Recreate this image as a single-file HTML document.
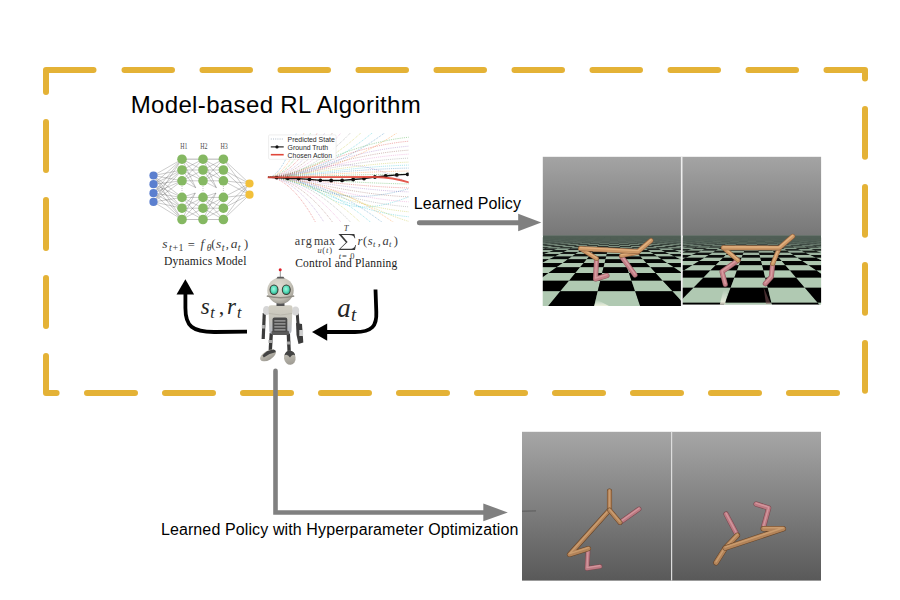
<!DOCTYPE html>
<html><head><meta charset="utf-8"><style>
html,body{margin:0;padding:0;background:#fff;}
body{width:900px;height:600px;position:relative;overflow:hidden;font-family:"Liberation Sans",sans-serif;}
svg{position:absolute;left:0;top:0;}
</style></head><body>
<svg width="900" height="600" viewBox="0 0 900 600">
<path d="M46,91.9 L46,70 L93.5,70 M826.5,70 L865,70 L865,78.6 M46,356 L46,393 L56.6,393 M124.5,70 L172.0,70 M202.5,70 L250.0,70 M280.5,70 L328.0,70 M358.5,70 L406.0,70 M436.5,70 L484.0,70 M514.5,70 L562.0,70 M592.5,70 L640.0,70 M670.5,70 L718.0,70 M748.5,70 L796.0,70 M865,109 L865,156.7 M865,187 L865,234.7 M865,265 L865,312.7 M865,343 L865,390.7 M87,393 L135,393 M165,393 L213,393 M243,393 L291,393 M321,393 L369,393 M399,393 L447,393 M477,393 L525,393 M555,393 L603,393 M633,393 L681,393 M711,393 L759,393 M789,393 L837,393 M46,122 L46,170 M46,200 L46,248 M46,278 L46,326" fill="none" stroke="#E4B236" stroke-width="6" stroke-linecap="round" stroke-linejoin="round"/>
<path d="M153.5,175.5L182,159.2 M153.5,175.5L182,170 M153.5,175.5L182,180.8 M153.5,175.5L182,197.4 M153.5,175.5L182,208.2 M153.5,175.5L182,219.5 M153.5,184.2L182,159.2 M153.5,184.2L182,170 M153.5,184.2L182,180.8 M153.5,184.2L182,197.4 M153.5,184.2L182,208.2 M153.5,184.2L182,219.5 M153.5,193.2L182,159.2 M153.5,193.2L182,170 M153.5,193.2L182,180.8 M153.5,193.2L182,197.4 M153.5,193.2L182,208.2 M153.5,193.2L182,219.5 M153.5,201.9L182,159.2 M153.5,201.9L182,170 M153.5,201.9L182,180.8 M153.5,201.9L182,197.4 M153.5,201.9L182,208.2 M153.5,201.9L182,219.5 M182,159.2L203,159.2 M182,159.2L203,170 M182,159.2L203,180.8 M182,170L203,159.2 M182,170L203,170 M182,170L203,180.8 M182,180.8L203,159.2 M182,180.8L203,170 M182,180.8L203,180.8 M182,197.4L203,197.4 M182,197.4L203,208.2 M182,197.4L203,219.5 M182,208.2L203,197.4 M182,208.2L203,208.2 M182,208.2L203,219.5 M182,219.5L203,197.4 M182,219.5L203,208.2 M182,219.5L203,219.5 M182,159.2L195.7,187.7 M182,170L195.7,187.7 M182,180.8L195.7,187.7 M182,197.4L195.3,193 M182,208.2L195.3,193 M182,219.5L195.3,193 M203,159.2L223.4,159.2 M203,159.2L223.4,170 M203,159.2L223.4,180.8 M203,170L223.4,159.2 M203,170L223.4,170 M203,170L223.4,180.8 M203,180.8L223.4,159.2 M203,180.8L223.4,170 M203,180.8L223.4,180.8 M203,197.4L223.4,197.4 M203,197.4L223.4,208.2 M203,197.4L223.4,219.5 M203,208.2L223.4,197.4 M203,208.2L223.4,208.2 M203,208.2L223.4,219.5 M203,219.5L223.4,197.4 M203,219.5L223.4,208.2 M203,219.5L223.4,219.5 M203,159.2L216.4,187.7 M203,170L216.4,187.7 M203,180.8L216.4,187.7 M203,197.4L216,193 M203,208.2L216,193 M203,219.5L216,193 M223.4,159.2L249.5,183.5 M223.4,159.2L249.5,194.7 M223.4,170L249.5,183.5 M223.4,170L249.5,194.7 M223.4,180.8L249.5,183.5 M223.4,180.8L249.5,194.7 M223.4,197.4L249.5,183.5 M223.4,197.4L249.5,194.7 M223.4,208.2L249.5,183.5 M223.4,208.2L249.5,194.7 M223.4,219.5L249.5,183.5 M223.4,219.5L249.5,194.7" stroke="#333" stroke-opacity="0.55" stroke-width="0.45" fill="none"/>
<path d="M182,159.2H223.4M182,219.5H223.4" stroke="#bbb" stroke-width="0.6"/>
<line x1="182" y1="186" x2="182" y2="192" stroke="#999" stroke-width="0.6" stroke-dasharray="1 1"/>
<line x1="203" y1="186" x2="203" y2="192" stroke="#999" stroke-width="0.6" stroke-dasharray="1 1"/>
<line x1="223.4" y1="186" x2="223.4" y2="192" stroke="#999" stroke-width="0.6" stroke-dasharray="1 1"/>
<circle cx="153.5" cy="175.5" r="4.1" fill="#5B7FCF"/>
<circle cx="153.5" cy="184.2" r="4.1" fill="#5B7FCF"/>
<circle cx="153.5" cy="193.2" r="4.1" fill="#5B7FCF"/>
<circle cx="153.5" cy="201.9" r="4.1" fill="#5B7FCF"/>
<circle cx="182" cy="159.2" r="4.8" fill="#85B862"/>
<circle cx="182" cy="170" r="4.8" fill="#85B862"/>
<circle cx="182" cy="180.8" r="4.8" fill="#85B862"/>
<circle cx="182" cy="197.4" r="4.8" fill="#85B862"/>
<circle cx="182" cy="208.2" r="4.8" fill="#85B862"/>
<circle cx="182" cy="219.5" r="4.8" fill="#85B862"/>
<circle cx="203" cy="159.2" r="4.8" fill="#85B862"/>
<circle cx="203" cy="170" r="4.8" fill="#85B862"/>
<circle cx="203" cy="180.8" r="4.8" fill="#85B862"/>
<circle cx="203" cy="197.4" r="4.8" fill="#85B862"/>
<circle cx="203" cy="208.2" r="4.8" fill="#85B862"/>
<circle cx="203" cy="219.5" r="4.8" fill="#85B862"/>
<circle cx="223.4" cy="159.2" r="4.8" fill="#85B862"/>
<circle cx="223.4" cy="170" r="4.8" fill="#85B862"/>
<circle cx="223.4" cy="180.8" r="4.8" fill="#85B862"/>
<circle cx="223.4" cy="197.4" r="4.8" fill="#85B862"/>
<circle cx="223.4" cy="208.2" r="4.8" fill="#85B862"/>
<circle cx="223.4" cy="219.5" r="4.8" fill="#85B862"/>
<circle cx="249.5" cy="183.5" r="4.1" fill="#F2C03A"/>
<circle cx="249.5" cy="194.7" r="4.1" fill="#F2C03A"/>
<text transform="translate(183.9,149) scale(0.78,1)" x="0" y="0" font-family="Liberation Serif, serif" font-size="7.6" fill="#4a4a4a" text-anchor="middle">H1</text>
<text transform="translate(203.9,149) scale(0.78,1)" x="0" y="0" font-family="Liberation Serif, serif" font-size="7.6" fill="#4a4a4a" text-anchor="middle">H2</text>
<text transform="translate(224.1,149) scale(0.78,1)" x="0" y="0" font-family="Liberation Serif, serif" font-size="7.6" fill="#4a4a4a" text-anchor="middle">H3</text>
<clipPath id="pc"><rect x="266" y="133" width="142.7" height="89"/></clipPath>
<g clip-path="url(#pc)">
<path d="M268,177.3 C278.5,177.3 289.6,155.12 298,128" fill="none" stroke="#1f77b4" stroke-opacity="0.55" stroke-width="0.75" stroke-dasharray="0.9 1.0"/>
<path d="M268,177.3 C281.3,177.3 295.36,155.12 306,128" fill="none" stroke="#ff7f0e" stroke-opacity="0.55" stroke-width="0.75" stroke-dasharray="0.9 1.0"/>
<path d="M268,177.3 C283.75,177.3 300.4,155.12 313,128" fill="none" stroke="#2ca02c" stroke-opacity="0.55" stroke-width="0.75" stroke-dasharray="0.9 1.0"/>
<path d="M268,177.3 C286.2,177.3 305.44,155.12 320,128" fill="none" stroke="#d62728" stroke-opacity="0.55" stroke-width="0.75" stroke-dasharray="0.9 1.0"/>
<path d="M268,177.3 C289,177.3 311.2,155.12 328,128" fill="none" stroke="#9467bd" stroke-opacity="0.55" stroke-width="0.75" stroke-dasharray="0.9 1.0"/>
<path d="M268,177.3 C291.8,177.3 316.96,155.12 336,128" fill="none" stroke="#8c564b" stroke-opacity="0.55" stroke-width="0.75" stroke-dasharray="0.9 1.0"/>
<path d="M268,177.3 C294.95,177.3 323.44,155.12 345,128" fill="none" stroke="#e377c2" stroke-opacity="0.55" stroke-width="0.75" stroke-dasharray="0.9 1.0"/>
<path d="M268,177.3 C298.45,177.3 330.64,155.12 355,128" fill="none" stroke="#7f7f7f" stroke-opacity="0.55" stroke-width="0.75" stroke-dasharray="0.9 1.0"/>
<path d="M268,177.3 C302.3,177.3 338.56,155.12 366,128" fill="none" stroke="#bcbd22" stroke-opacity="0.55" stroke-width="0.75" stroke-dasharray="0.9 1.0"/>
<path d="M268,177.3 C306.5,177.3 347.2,155.12 378,128" fill="none" stroke="#17becf" stroke-opacity="0.55" stroke-width="0.75" stroke-dasharray="0.9 1.0"/>
<path d="M268,177.3 C311.05,177.3 356.56,155.12 391,128" fill="none" stroke="#1f77b4" stroke-opacity="0.55" stroke-width="0.75" stroke-dasharray="0.9 1.0"/>
<path d="M268,177.3 C315.6,177.3 365.92,155.12 404,128" fill="none" stroke="#ff7f0e" stroke-opacity="0.55" stroke-width="0.75" stroke-dasharray="0.9 1.0"/>
<path d="M268,177.3 C300,177.3 345,143.05 411,137" fill="none" stroke="#2ca02c" stroke-opacity="0.55" stroke-width="0.75" stroke-dasharray="0.9 1.0"/>
<path d="M268,177.3 C300,177.3 345,146.44 411,141" fill="none" stroke="#d62728" stroke-opacity="0.55" stroke-width="0.75" stroke-dasharray="0.9 1.0"/>
<path d="M268,177.3 C300,177.3 345,150.69 411,146" fill="none" stroke="#9467bd" stroke-opacity="0.55" stroke-width="0.75" stroke-dasharray="0.9 1.0"/>
<path d="M268,177.3 C300,177.3 345,154.09 411,150" fill="none" stroke="#8c564b" stroke-opacity="0.55" stroke-width="0.75" stroke-dasharray="0.9 1.0"/>
<path d="M268,177.3 C300,177.3 345,157.5 411,154" fill="none" stroke="#e377c2" stroke-opacity="0.55" stroke-width="0.75" stroke-dasharray="0.9 1.0"/>
<path d="M268,177.3 C300,177.3 345,160.9 411,158" fill="none" stroke="#7f7f7f" stroke-opacity="0.55" stroke-width="0.75" stroke-dasharray="0.9 1.0"/>
<path d="M268,177.3 C300,177.3 345,164.3 411,162" fill="none" stroke="#bcbd22" stroke-opacity="0.55" stroke-width="0.75" stroke-dasharray="0.9 1.0"/>
<path d="M268,177.3 C300,177.3 345,166.84 411,165" fill="none" stroke="#17becf" stroke-opacity="0.55" stroke-width="0.75" stroke-dasharray="0.9 1.0"/>
<path d="M268,177.3 C300,177.3 345,169.4 411,168" fill="none" stroke="#1f77b4" stroke-opacity="0.55" stroke-width="0.75" stroke-dasharray="0.9 1.0"/>
<path d="M268,177.3 C300,177.3 345,171.94 411,171" fill="none" stroke="#ff7f0e" stroke-opacity="0.55" stroke-width="0.75" stroke-dasharray="0.9 1.0"/>
<path d="M268,177.3 C300,177.3 345,174.5 411,174" fill="none" stroke="#2ca02c" stroke-opacity="0.55" stroke-width="0.75" stroke-dasharray="0.9 1.0"/>
<path d="M268,177.3 C285.5,177.3 304,199.67 318,227" fill="none" stroke="#d62728" stroke-opacity="0.55" stroke-width="0.75" stroke-dasharray="0.9 1.0"/>
<path d="M268,177.3 C288.65,177.3 310.48,199.67 327,227" fill="none" stroke="#9467bd" stroke-opacity="0.55" stroke-width="0.75" stroke-dasharray="0.9 1.0"/>
<path d="M268,177.3 C291.8,177.3 316.96,199.67 336,227" fill="none" stroke="#8c564b" stroke-opacity="0.55" stroke-width="0.75" stroke-dasharray="0.9 1.0"/>
<path d="M268,177.3 C294.95,177.3 323.44,199.67 345,227" fill="none" stroke="#e377c2" stroke-opacity="0.55" stroke-width="0.75" stroke-dasharray="0.9 1.0"/>
<path d="M268,177.3 C298.45,177.3 330.64,199.67 355,227" fill="none" stroke="#7f7f7f" stroke-opacity="0.55" stroke-width="0.75" stroke-dasharray="0.9 1.0"/>
<path d="M268,177.3 C301.95,177.3 337.84,199.67 365,227" fill="none" stroke="#bcbd22" stroke-opacity="0.55" stroke-width="0.75" stroke-dasharray="0.9 1.0"/>
<path d="M268,177.3 C305.8,177.3 345.76,199.67 376,227" fill="none" stroke="#17becf" stroke-opacity="0.55" stroke-width="0.75" stroke-dasharray="0.9 1.0"/>
<path d="M268,177.3 C310,177.3 354.4,199.67 388,227" fill="none" stroke="#1f77b4" stroke-opacity="0.55" stroke-width="0.75" stroke-dasharray="0.9 1.0"/>
<path d="M268,177.3 C314.2,177.3 363.04,199.67 400,227" fill="none" stroke="#ff7f0e" stroke-opacity="0.55" stroke-width="0.75" stroke-dasharray="0.9 1.0"/>
<path d="M268,177.3 C300,177.3 345,183 411,184" fill="none" stroke="#2ca02c" stroke-opacity="0.55" stroke-width="0.75" stroke-dasharray="0.9 1.0"/>
<path d="M268,177.3 C300,177.3 345,186.4 411,188" fill="none" stroke="#d62728" stroke-opacity="0.55" stroke-width="0.75" stroke-dasharray="0.9 1.0"/>
<path d="M268,177.3 C300,177.3 345,189.8 411,192" fill="none" stroke="#9467bd" stroke-opacity="0.55" stroke-width="0.75" stroke-dasharray="0.9 1.0"/>
<path d="M268,177.3 C300,177.3 345,194.05 411,197" fill="none" stroke="#8c564b" stroke-opacity="0.55" stroke-width="0.75" stroke-dasharray="0.9 1.0"/>
<path d="M268,177.3 C300,177.3 345,198.3 411,202" fill="none" stroke="#e377c2" stroke-opacity="0.55" stroke-width="0.75" stroke-dasharray="0.9 1.0"/>
<path d="M268,177.3 C300,177.3 345,202.55 411,207" fill="none" stroke="#7f7f7f" stroke-opacity="0.55" stroke-width="0.75" stroke-dasharray="0.9 1.0"/>
<path d="M268,177.3 C300,177.3 345,206.8 411,212" fill="none" stroke="#bcbd22" stroke-opacity="0.55" stroke-width="0.75" stroke-dasharray="0.9 1.0"/>
<path d="M268,177.3 C300,177.3 345,211.05 411,217" fill="none" stroke="#17becf" stroke-opacity="0.55" stroke-width="0.75" stroke-dasharray="0.9 1.0"/>
<path d="M300,182 C330,196 360,203 411,188" fill="none" stroke="#1f77b4" stroke-opacity="0.55" stroke-width="0.75" stroke-dasharray="0.9 1.0"/>
<path d="M310,186 C345,212 370,212 411,196" fill="none" stroke="#17becf" stroke-opacity="0.55" stroke-width="0.75" stroke-dasharray="0.9 1.0"/>
<path d="M320,168 C350,160 380,168 411,184" fill="none" stroke="#9467bd" stroke-opacity="0.55" stroke-width="0.75" stroke-dasharray="0.9 1.0"/>
<path d="M330,190 C360,200 385,215 411,222" fill="none" stroke="#bcbd22" stroke-opacity="0.55" stroke-width="0.75" stroke-dasharray="0.9 1.0"/>
<polyline points="268,177.3 276.6,177.6 287.7,178.3 298.6,178.6 309.4,179.3 320.3,180.3 331.2,180.5 342.1,180.4 353.2,179.5 364,178.6 374.9,177 385.7,176 396.8,174.9 407.6,174.3" fill="none" stroke="#111" stroke-width="1.3"/>
<circle cx="276.6" cy="177.6" r="1.9" fill="#111"/>
<circle cx="287.7" cy="178.3" r="1.9" fill="#111"/>
<circle cx="298.6" cy="178.6" r="1.9" fill="#111"/>
<circle cx="309.4" cy="179.3" r="1.9" fill="#111"/>
<circle cx="320.3" cy="180.3" r="1.9" fill="#111"/>
<circle cx="331.2" cy="180.5" r="1.9" fill="#111"/>
<circle cx="342.1" cy="180.4" r="1.9" fill="#111"/>
<circle cx="353.2" cy="179.5" r="1.9" fill="#111"/>
<circle cx="364" cy="178.6" r="1.9" fill="#111"/>
<circle cx="374.9" cy="177" r="1.9" fill="#111"/>
<circle cx="385.7" cy="176" r="1.9" fill="#111"/>
<circle cx="396.8" cy="174.9" r="1.9" fill="#111"/>
<circle cx="407.6" cy="174.3" r="1.9" fill="#111"/>
<path d="M267.7,177.3 C300,177.2 350,177 375,177 C390,177.2 400,179.5 409,182.5" fill="none" stroke="#e0473a" stroke-opacity="0.9" stroke-width="1.8"/>
</g>
<rect x="268.6" y="134.9" width="67.5" height="24.4" rx="1.2" fill="#fff" fill-opacity="0.85" stroke="#ddd" stroke-width="0.5"/>
<line x1="270.8" y1="139" x2="283.7" y2="139" stroke="#9ab" stroke-width="0.8" stroke-dasharray="1 1.2"/>
<line x1="270.8" y1="146.9" x2="283.7" y2="146.9" stroke="#111" stroke-width="1.1"/>
<circle cx="277" cy="146.9" r="1.6" fill="#111"/>
<line x1="270.8" y1="154.7" x2="283.7" y2="154.7" stroke="#e0473a" stroke-width="1.6"/>
<text x="287.6" y="141.8" font-family="Liberation Sans, sans-serif" font-size="6.9" fill="#2a2a2a">Predicted State</text>
<text x="287.6" y="149.7" font-family="Liberation Sans, sans-serif" font-size="6.9" fill="#2a2a2a">Ground Truth</text>
<text x="287.6" y="157.5" font-family="Liberation Sans, sans-serif" font-size="6.9" fill="#2a2a2a">Chosen Action</text>
<path d="M247,331.7 L215,332 C192,332.2 185.4,326 185.4,308 L185.4,292" fill="none" stroke="#000" stroke-width="3.8"/>
<path d="M185.4,279.3 L176.5,294.5 L194.1,294.5 Z" fill="#000"/>
<path d="M375.5,289.5 L376.3,312 C377,326 372,332 355,332 L325,332" fill="none" stroke="#000" stroke-width="3.8"/>
<path d="M312,332 L327.2,323.4 L327.2,340.7 Z" fill="#000"/>
<path d="M419.4,222.7 L520,222.7" stroke="#808080" stroke-width="5" stroke-linecap="round"/>
<path d="M541.3,222.5 L518.2,213.8 L518.2,231.2 Z" fill="#808080"/>
<path d="M275.5,370.8 L275.5,512.5 L486,512.5" fill="none" stroke="#808080" stroke-width="4.6" stroke-linecap="round" stroke-linejoin="miter"/>
<path d="M507.8,512.4 L483.3,503.6 L483.3,521.2 Z" fill="#808080"/>
<defs>
<radialGradient id="rh" cx="0.42" cy="0.35" r="0.75"><stop offset="0" stop-color="#e0ddd3"/><stop offset="0.6" stop-color="#c9c6bb"/><stop offset="1" stop-color="#8e8b83"/></radialGradient>
<radialGradient id="re" cx="0.45" cy="0.4" r="0.65"><stop offset="0" stop-color="#a0f7e0"/><stop offset="0.6" stop-color="#55dcb8"/><stop offset="1" stop-color="#2a9f80"/></radialGradient>
<linearGradient id="rb" x1="0" y1="0" x2="0" y2="1"><stop offset="0" stop-color="#d2cfc3"/><stop offset="0.4" stop-color="#c8c6bc"/><stop offset="1" stop-color="#b2b6c0"/></linearGradient>
<linearGradient id="rf" x1="0" y1="0" x2="0" y2="1"><stop offset="0" stop-color="#c9c6bb"/><stop offset="1" stop-color="#9d9a92"/></linearGradient>
</defs>
<line x1="280.3" y1="270.5" x2="280.3" y2="277.5" stroke="#8a8a8a" stroke-width="0.9"/>
<circle cx="280.2" cy="269.8" r="1.5" fill="#e0202a"/>
<path d="M271.3,333 L270.3,350" stroke="#3a3a3a" stroke-width="3.4"/>
<path d="M288.3,333 L289.2,352.5" stroke="#3a3a3a" stroke-width="3.4"/>
<rect x="268.5" y="340" width="4.2" height="3" fill="#a5a5a5"/>
<rect x="286.8" y="341.5" width="4.2" height="3" fill="#a5a5a5"/>
<ellipse cx="268" cy="355.4" rx="8.8" ry="4.6" transform="rotate(-30 268 355.4)" fill="url(#rf)"/>
<path d="M262.5,355.5 Q266,350.2 273.5,349.5 Q276.3,350.2 275.5,352.3 Q269.5,353.2 263.8,357.5 Z" fill="#434343"/>
<ellipse cx="289.8" cy="357.8" rx="5.8" ry="7" transform="rotate(-8 289.8 357.8)" fill="url(#rf)"/>
<path d="M284.4,355.5 Q285.5,351 289.5,350.8 Q294.5,351 295.2,355.5 Q292.5,353.2 290,357.5 Q287.2,353.2 284.4,355.5 Z" fill="#434343"/>
<path d="M264.3,313 L263.2,339" stroke="#3c3c3c" stroke-width="3.2"/>
<rect x="261.8" y="325" width="3" height="3.5" fill="#b0b0b0"/>
<ellipse cx="266.5" cy="310.5" rx="3.5" ry="4.6" fill="#d6d6d6"/>
<path d="M297.2,313 L298,324" stroke="#3c3c3c" stroke-width="3"/>
<path d="M296,323 L302,324 L303.3,342.5 L298.5,344 L296.5,335 Z" fill="#3c3c3c"/>
<rect x="299.3" y="330" width="3.8" height="6" fill="#cfcfcf"/>
<ellipse cx="295.6" cy="311" rx="3.6" ry="4.5" fill="#d6d6d6"/>
<path d="M268.5,307.5 Q268.5,305.3 271,305.3 L290,305.3 Q292.5,305.3 292.5,307.5 L291.5,331 Q291,334 288,334 L272.5,334 Q269.5,334 269.3,331 Z" fill="url(#rb)"/>
<path d="M269,313.5 Q280.5,316.5 292,313.5" stroke="#b5b2a8" stroke-width="0.8" fill="none"/>
<rect x="271.5" y="330.5" width="17.5" height="4.5" rx="1.5" fill="#5a5a5a"/>
<rect x="272.5" y="317.6" width="14.8" height="14.3" rx="2" fill="#4a4a4a"/>
<rect x="274.3" y="320.0" width="11.2" height="1.7" fill="#8e8e8e"/>
<rect x="274.3" y="323.0" width="11.2" height="1.7" fill="#8e8e8e"/>
<rect x="274.3" y="326.0" width="11.2" height="1.7" fill="#8e8e8e"/>
<rect x="274.3" y="329.0" width="11.2" height="1.7" fill="#8e8e8e"/>
<rect x="276.5" y="302" width="8" height="4" fill="#555"/>
<circle cx="280.5" cy="290.6" r="13.2" fill="url(#rh)"/>
<path d="M266.8,296 Q280.5,299.5 294.2,296" stroke="#8f8c84" stroke-width="1.3" fill="none"/>
<path d="M276.3,278.6 L284.7,278.6 L283.4,276.8 L277.6,276.8 Z" fill="#5a5a5a"/>
<ellipse cx="274.0" cy="289.8" rx="4.5" ry="5.3" fill="#3a3a33"/>
<ellipse cx="274.0" cy="289.8" rx="3.5" ry="4.3" fill="url(#re)"/>
<ellipse cx="286.3" cy="289.8" rx="4.5" ry="5.3" fill="#3a3a33"/>
<ellipse cx="286.3" cy="289.8" rx="3.5" ry="4.3" fill="url(#re)"/>
<defs><linearGradient id="sky" x1="0" y1="0" x2="0" y2="1"><stop offset="0" stop-color="#a4a4a4"/><stop offset="1" stop-color="#777777"/></linearGradient><linearGradient id="refl" x1="0" y1="0" x2="0" y2="1"><stop offset="0" stop-color="#fff" stop-opacity="0"/><stop offset="1" stop-color="#fffbe8" stop-opacity="0.9"/></linearGradient></defs>
<rect x="542.8" y="156.8" width="278.3" height="78.8" fill="url(#sky)"/>
<clipPath id="cl"><rect x="542.8" y="235.2" width="138.20000000000005" height="70.69999999999999"/></clipPath>
<g clip-path="url(#cl)">
<rect x="542.8" y="234.7" width="138.20000000000005" height="71.19999999999999" fill="#505f56"/>
<path d="M537.78,237.46L543.86,237.46L546.03,237.13L540.14,237.13Z" fill="#505f56"/>
<path d="M543.86,237.46L549.95,237.46L551.92,237.13L546.03,237.13Z" fill="#505f56"/>
<path d="M549.95,237.46L556.03,237.46L557.82,237.13L551.92,237.13Z" fill="#505f56"/>
<path d="M556.03,237.46L562.11,237.46L563.71,237.13L557.82,237.13Z" fill="#505f56"/>
<path d="M562.11,237.46L568.19,237.46L569.6,237.13L563.71,237.13Z" fill="#505f56"/>
<path d="M568.19,237.46L574.28,237.46L575.49,237.13L569.6,237.13Z" fill="#505f56"/>
<path d="M574.28,237.46L580.36,237.46L581.39,237.13L575.49,237.13Z" fill="#505f56"/>
<path d="M580.36,237.46L586.44,237.46L587.28,237.13L581.39,237.13Z" fill="#505f56"/>
<path d="M586.44,237.46L592.52,237.46L593.17,237.13L587.28,237.13Z" fill="#505f56"/>
<path d="M592.52,237.46L598.61,237.46L599.06,237.13L593.17,237.13Z" fill="#505f56"/>
<path d="M598.61,237.46L604.69,237.46L604.96,237.13L599.06,237.13Z" fill="#505f56"/>
<path d="M604.69,237.46L610.77,237.46L610.85,237.13L604.96,237.13Z" fill="#505f56"/>
<path d="M610.77,237.46L616.85,237.46L616.74,237.13L610.85,237.13Z" fill="#505f56"/>
<path d="M616.85,237.46L622.94,237.46L622.63,237.13L616.74,237.13Z" fill="#505f56"/>
<path d="M622.94,237.46L629.02,237.46L628.53,237.13L622.63,237.13Z" fill="#505f56"/>
<path d="M629.02,237.46L635.1,237.46L634.42,237.13L628.53,237.13Z" fill="#505f56"/>
<path d="M635.1,237.46L641.18,237.46L640.31,237.13L634.42,237.13Z" fill="#505f56"/>
<path d="M641.18,237.46L647.26,237.46L646.2,237.13L640.31,237.13Z" fill="#505f56"/>
<path d="M647.26,237.46L653.35,237.46L652.1,237.13L646.2,237.13Z" fill="#505f56"/>
<path d="M653.35,237.46L659.43,237.46L657.99,237.13L652.1,237.13Z" fill="#505f56"/>
<path d="M659.43,237.46L665.51,237.46L663.88,237.13L657.99,237.13Z" fill="#505f56"/>
<path d="M665.51,237.46L671.59,237.46L669.78,237.13L663.88,237.13Z" fill="#505f56"/>
<path d="M671.59,237.46L677.68,237.46L675.67,237.13L669.78,237.13Z" fill="#505f56"/>
<path d="M677.68,237.46L683.76,237.46L681.56,237.13L675.67,237.13Z" fill="#505f56"/>
<path d="M683.76,237.46L689.84,237.46L687.45,237.13L681.56,237.13Z" fill="#505f56"/>
<path d="M535.27,237.81L541.55,237.81L543.86,237.46L537.78,237.46Z" fill="#505f56"/>
<path d="M541.55,237.81L547.84,237.81L549.95,237.46L543.86,237.46Z" fill="#505f56"/>
<path d="M547.84,237.81L554.12,237.81L556.03,237.46L549.95,237.46Z" fill="#505f56"/>
<path d="M554.12,237.81L560.41,237.81L562.11,237.46L556.03,237.46Z" fill="#505f56"/>
<path d="M560.41,237.81L566.69,237.81L568.19,237.46L562.11,237.46Z" fill="#505f56"/>
<path d="M566.69,237.81L572.98,237.81L574.28,237.46L568.19,237.46Z" fill="#505f56"/>
<path d="M572.98,237.81L579.26,237.81L580.36,237.46L574.28,237.46Z" fill="#505f56"/>
<path d="M579.26,237.81L585.55,237.81L586.44,237.46L580.36,237.46Z" fill="#505f56"/>
<path d="M585.55,237.81L591.83,237.81L592.52,237.46L586.44,237.46Z" fill="#505f56"/>
<path d="M591.83,237.81L598.12,237.81L598.61,237.46L592.52,237.46Z" fill="#505f56"/>
<path d="M598.12,237.81L604.4,237.81L604.69,237.46L598.61,237.46Z" fill="#505f56"/>
<path d="M604.4,237.81L610.69,237.81L610.77,237.46L604.69,237.46Z" fill="#505f56"/>
<path d="M610.69,237.81L616.97,237.81L616.85,237.46L610.77,237.46Z" fill="#505f56"/>
<path d="M616.97,237.81L623.26,237.81L622.94,237.46L616.85,237.46Z" fill="#505f56"/>
<path d="M623.26,237.81L629.54,237.81L629.02,237.46L622.94,237.46Z" fill="#505f56"/>
<path d="M629.54,237.81L635.83,237.81L635.1,237.46L629.02,237.46Z" fill="#505f56"/>
<path d="M635.83,237.81L642.11,237.81L641.18,237.46L635.1,237.46Z" fill="#505f56"/>
<path d="M642.11,237.81L648.4,237.81L647.26,237.46L641.18,237.46Z" fill="#505f56"/>
<path d="M648.4,237.81L654.68,237.81L653.35,237.46L647.26,237.46Z" fill="#505f56"/>
<path d="M654.68,237.81L660.96,237.81L659.43,237.46L653.35,237.46Z" fill="#505f56"/>
<path d="M660.96,237.81L667.25,237.81L665.51,237.46L659.43,237.46Z" fill="#505f56"/>
<path d="M667.25,237.81L673.53,237.81L671.59,237.46L665.51,237.46Z" fill="#505f56"/>
<path d="M673.53,237.81L679.82,237.81L677.68,237.46L671.59,237.46Z" fill="#505f56"/>
<path d="M679.82,237.81L686.1,237.81L683.76,237.46L677.68,237.46Z" fill="#505f56"/>
<path d="M539.08,238.18L545.58,238.18L547.84,237.81L541.55,237.81Z" fill="#505f56"/>
<path d="M545.58,238.18L552.08,238.18L554.12,237.81L547.84,237.81Z" fill="#505f56"/>
<path d="M552.08,238.18L558.59,238.18L560.41,237.81L554.12,237.81Z" fill="#505f56"/>
<path d="M558.59,238.18L565.09,238.18L566.69,237.81L560.41,237.81Z" fill="#505f56"/>
<path d="M565.09,238.18L571.59,238.18L572.98,237.81L566.69,237.81Z" fill="#505f56"/>
<path d="M571.59,238.18L578.09,238.18L579.26,237.81L572.98,237.81Z" fill="#505f56"/>
<path d="M578.09,238.18L584.59,238.18L585.55,237.81L579.26,237.81Z" fill="#505f56"/>
<path d="M584.59,238.18L591.09,238.18L591.83,237.81L585.55,237.81Z" fill="#505f56"/>
<path d="M591.09,238.18L597.59,238.18L598.12,237.81L591.83,237.81Z" fill="#505f56"/>
<path d="M597.59,238.18L604.09,238.18L604.4,237.81L598.12,237.81Z" fill="#505f56"/>
<path d="M604.09,238.18L610.6,238.18L610.69,237.81L604.4,237.81Z" fill="#505f56"/>
<path d="M610.6,238.18L617.1,238.18L616.97,237.81L610.69,237.81Z" fill="#505f56"/>
<path d="M617.1,238.18L623.6,238.18L623.26,237.81L616.97,237.81Z" fill="#505f56"/>
<path d="M623.6,238.18L630.1,238.18L629.54,237.81L623.26,237.81Z" fill="#505f56"/>
<path d="M630.1,238.18L636.6,238.18L635.83,237.81L629.54,237.81Z" fill="#505f56"/>
<path d="M636.6,238.18L643.1,238.18L642.11,237.81L635.83,237.81Z" fill="#505f56"/>
<path d="M643.1,238.18L649.6,238.18L648.4,237.81L642.11,237.81Z" fill="#505f56"/>
<path d="M649.6,238.18L656.1,238.18L654.68,237.81L648.4,237.81Z" fill="#505f56"/>
<path d="M656.1,238.18L662.61,238.18L660.96,237.81L654.68,237.81Z" fill="#505f56"/>
<path d="M662.61,238.18L669.11,238.18L667.25,237.81L660.96,237.81Z" fill="#505f56"/>
<path d="M669.11,238.18L675.61,238.18L673.53,237.81L667.25,237.81Z" fill="#505f56"/>
<path d="M675.61,238.18L682.11,238.18L679.82,237.81L673.53,237.81Z" fill="#505f56"/>
<path d="M682.11,238.18L688.61,238.18L686.1,237.81L679.82,237.81Z" fill="#505f56"/>
<path d="M536.44,238.58L543.17,238.58L545.58,238.18L539.08,238.18Z" fill="#4f5e55"/>
<path d="M543.17,238.58L549.9,238.58L552.08,238.18L545.58,238.18Z" fill="#516057"/>
<path d="M549.9,238.58L556.64,238.58L558.59,238.18L552.08,238.18Z" fill="#4f5e55"/>
<path d="M556.64,238.58L563.37,238.58L565.09,238.18L558.59,238.18Z" fill="#516057"/>
<path d="M563.37,238.58L570.1,238.58L571.59,238.18L565.09,238.18Z" fill="#4f5e55"/>
<path d="M570.1,238.58L576.83,238.58L578.09,238.18L571.59,238.18Z" fill="#516057"/>
<path d="M576.83,238.58L583.57,238.58L584.59,238.18L578.09,238.18Z" fill="#4f5e55"/>
<path d="M583.57,238.58L590.3,238.58L591.09,238.18L584.59,238.18Z" fill="#516057"/>
<path d="M590.3,238.58L597.03,238.58L597.59,238.18L591.09,238.18Z" fill="#4f5e55"/>
<path d="M597.03,238.58L603.77,238.58L604.09,238.18L597.59,238.18Z" fill="#516057"/>
<path d="M603.77,238.58L610.5,238.58L610.6,238.18L604.09,238.18Z" fill="#4f5e55"/>
<path d="M610.5,238.58L617.23,238.58L617.1,238.18L610.6,238.18Z" fill="#516057"/>
<path d="M617.23,238.58L623.97,238.58L623.6,238.18L617.1,238.18Z" fill="#4f5e55"/>
<path d="M623.97,238.58L630.7,238.58L630.1,238.18L623.6,238.18Z" fill="#516057"/>
<path d="M630.7,238.58L637.43,238.58L636.6,238.18L630.1,238.18Z" fill="#4f5e55"/>
<path d="M637.43,238.58L644.16,238.58L643.1,238.18L636.6,238.18Z" fill="#516057"/>
<path d="M644.16,238.58L650.9,238.58L649.6,238.18L643.1,238.18Z" fill="#4f5e55"/>
<path d="M650.9,238.58L657.63,238.58L656.1,238.18L649.6,238.18Z" fill="#516057"/>
<path d="M657.63,238.58L664.36,238.58L662.61,238.18L656.1,238.18Z" fill="#4f5e55"/>
<path d="M664.36,238.58L671.1,238.58L669.11,238.18L662.61,238.18Z" fill="#516057"/>
<path d="M671.1,238.58L677.83,238.58L675.61,238.18L669.11,238.18Z" fill="#4f5e55"/>
<path d="M677.83,238.58L684.56,238.58L682.11,238.18L675.61,238.18Z" fill="#516057"/>
<path d="M533.59,239L540.58,239L543.17,238.58L536.44,238.58Z" fill="#516057"/>
<path d="M540.58,239L547.56,239L549.9,238.58L543.17,238.58Z" fill="#4f5e55"/>
<path d="M547.56,239L554.54,239L556.64,238.58L549.9,238.58Z" fill="#516057"/>
<path d="M554.54,239L561.52,239L563.37,238.58L556.64,238.58Z" fill="#4f5e55"/>
<path d="M561.52,239L568.5,239L570.1,238.58L563.37,238.58Z" fill="#516057"/>
<path d="M568.5,239L575.49,239L576.83,238.58L570.1,238.58Z" fill="#4f5e55"/>
<path d="M575.49,239L582.47,239L583.57,238.58L576.83,238.58Z" fill="#516057"/>
<path d="M582.47,239L589.45,239L590.3,238.58L583.57,238.58Z" fill="#4f5e55"/>
<path d="M589.45,239L596.43,239L597.03,238.58L590.3,238.58Z" fill="#516057"/>
<path d="M596.43,239L603.41,239L603.77,238.58L597.03,238.58Z" fill="#4f5e55"/>
<path d="M603.41,239L610.4,239L610.5,238.58L603.77,238.58Z" fill="#516057"/>
<path d="M610.4,239L617.38,239L617.23,238.58L610.5,238.58Z" fill="#4f5e55"/>
<path d="M617.38,239L624.36,239L623.97,238.58L617.23,238.58Z" fill="#516057"/>
<path d="M624.36,239L631.34,239L630.7,238.58L623.97,238.58Z" fill="#4f5e55"/>
<path d="M631.34,239L638.32,239L637.43,238.58L630.7,238.58Z" fill="#516057"/>
<path d="M638.32,239L645.31,239L644.16,238.58L637.43,238.58Z" fill="#4f5e55"/>
<path d="M645.31,239L652.29,239L650.9,238.58L644.16,238.58Z" fill="#516057"/>
<path d="M652.29,239L659.27,239L657.63,238.58L650.9,238.58Z" fill="#4f5e55"/>
<path d="M659.27,239L666.25,239L664.36,238.58L657.63,238.58Z" fill="#516057"/>
<path d="M666.25,239L673.23,239L671.1,238.58L664.36,238.58Z" fill="#4f5e55"/>
<path d="M673.23,239L680.22,239L677.83,238.58L671.1,238.58Z" fill="#516057"/>
<path d="M680.22,239L687.2,239L684.56,238.58L677.83,238.58Z" fill="#4f5e55"/>
<path d="M537.78,239.47L545.03,239.47L547.56,239L540.58,239Z" fill="#526158"/>
<path d="M545.03,239.47L552.28,239.47L554.54,239L547.56,239Z" fill="#4e5d54"/>
<path d="M552.28,239.47L559.53,239.47L561.52,239L554.54,239Z" fill="#526158"/>
<path d="M559.53,239.47L566.78,239.47L568.5,239L561.52,239Z" fill="#4e5d54"/>
<path d="M566.78,239.47L574.03,239.47L575.49,239L568.5,239Z" fill="#526158"/>
<path d="M574.03,239.47L581.28,239.47L582.47,239L575.49,239Z" fill="#4e5d54"/>
<path d="M581.28,239.47L588.53,239.47L589.45,239L582.47,239Z" fill="#526158"/>
<path d="M588.53,239.47L595.78,239.47L596.43,239L589.45,239Z" fill="#4e5d54"/>
<path d="M595.78,239.47L603.03,239.47L603.41,239L596.43,239Z" fill="#526158"/>
<path d="M603.03,239.47L610.28,239.47L610.4,239L603.41,239Z" fill="#4e5d54"/>
<path d="M610.28,239.47L617.53,239.47L617.38,239L610.4,239Z" fill="#526158"/>
<path d="M617.53,239.47L624.78,239.47L624.36,239L617.38,239Z" fill="#4e5d54"/>
<path d="M624.78,239.47L632.03,239.47L631.34,239L624.36,239Z" fill="#526158"/>
<path d="M632.03,239.47L639.28,239.47L638.32,239L631.34,239Z" fill="#4e5d54"/>
<path d="M639.28,239.47L646.53,239.47L645.31,239L638.32,239Z" fill="#526158"/>
<path d="M646.53,239.47L653.78,239.47L652.29,239L645.31,239Z" fill="#4e5d54"/>
<path d="M653.78,239.47L661.03,239.47L659.27,239L652.29,239Z" fill="#526158"/>
<path d="M661.03,239.47L668.29,239.47L666.25,239L659.27,239Z" fill="#4e5d54"/>
<path d="M668.29,239.47L675.54,239.47L673.23,239L666.25,239Z" fill="#526158"/>
<path d="M675.54,239.47L682.79,239.47L680.22,239L673.23,239Z" fill="#4e5d54"/>
<path d="M682.79,239.47L690.04,239.47L687.2,239L680.22,239Z" fill="#526158"/>
<path d="M534.77,239.96L542.31,239.96L545.03,239.47L537.78,239.47Z" fill="#4d5c53"/>
<path d="M542.31,239.96L549.85,239.96L552.28,239.47L545.03,239.47Z" fill="#536259"/>
<path d="M549.85,239.96L557.39,239.96L559.53,239.47L552.28,239.47Z" fill="#4d5c53"/>
<path d="M557.39,239.96L564.93,239.96L566.78,239.47L559.53,239.47Z" fill="#536259"/>
<path d="M564.93,239.96L572.47,239.96L574.03,239.47L566.78,239.47Z" fill="#4d5c53"/>
<path d="M572.47,239.96L580.01,239.96L581.28,239.47L574.03,239.47Z" fill="#536259"/>
<path d="M580.01,239.96L587.55,239.96L588.53,239.47L581.28,239.47Z" fill="#4d5c53"/>
<path d="M587.55,239.96L595.09,239.96L595.78,239.47L588.53,239.47Z" fill="#536259"/>
<path d="M595.09,239.96L602.62,239.96L603.03,239.47L595.78,239.47Z" fill="#4d5c53"/>
<path d="M602.62,239.96L610.16,239.96L610.28,239.47L603.03,239.47Z" fill="#536259"/>
<path d="M610.16,239.96L617.7,239.96L617.53,239.47L610.28,239.47Z" fill="#4d5c53"/>
<path d="M617.7,239.96L625.24,239.96L624.78,239.47L617.53,239.47Z" fill="#536259"/>
<path d="M625.24,239.96L632.78,239.96L632.03,239.47L624.78,239.47Z" fill="#4d5c53"/>
<path d="M632.78,239.96L640.32,239.96L639.28,239.47L632.03,239.47Z" fill="#536259"/>
<path d="M640.32,239.96L647.86,239.96L646.53,239.47L639.28,239.47Z" fill="#4d5c53"/>
<path d="M647.86,239.96L655.4,239.96L653.78,239.47L646.53,239.47Z" fill="#536259"/>
<path d="M655.4,239.96L662.94,239.96L661.03,239.47L653.78,239.47Z" fill="#4d5c53"/>
<path d="M662.94,239.96L670.48,239.96L668.29,239.47L661.03,239.47Z" fill="#536259"/>
<path d="M670.48,239.96L678.02,239.96L675.54,239.47L668.29,239.47Z" fill="#4d5c53"/>
<path d="M678.02,239.96L685.56,239.96L682.79,239.47L675.54,239.47Z" fill="#536259"/>
<path d="M531.5,240.5L539.36,240.5L542.31,239.96L534.77,239.96Z" fill="#55645b"/>
<path d="M539.36,240.5L547.21,240.5L549.85,239.96L542.31,239.96Z" fill="#4c5a52"/>
<path d="M547.21,240.5L555.06,240.5L557.39,239.96L549.85,239.96Z" fill="#55645b"/>
<path d="M555.06,240.5L562.92,240.5L564.93,239.96L557.39,239.96Z" fill="#4c5a52"/>
<path d="M562.92,240.5L570.77,240.5L572.47,239.96L564.93,239.96Z" fill="#55645b"/>
<path d="M570.77,240.5L578.62,240.5L580.01,239.96L572.47,239.96Z" fill="#4c5a52"/>
<path d="M578.62,240.5L586.47,240.5L587.55,239.96L580.01,239.96Z" fill="#55645b"/>
<path d="M586.47,240.5L594.33,240.5L595.09,239.96L587.55,239.96Z" fill="#4c5a52"/>
<path d="M594.33,240.5L602.18,240.5L602.62,239.96L595.09,239.96Z" fill="#55645b"/>
<path d="M602.18,240.5L610.03,240.5L610.16,239.96L602.62,239.96Z" fill="#4c5a52"/>
<path d="M610.03,240.5L617.89,240.5L617.7,239.96L610.16,239.96Z" fill="#55645b"/>
<path d="M617.89,240.5L625.74,240.5L625.24,239.96L617.7,239.96Z" fill="#4c5a52"/>
<path d="M625.74,240.5L633.59,240.5L632.78,239.96L625.24,239.96Z" fill="#55645b"/>
<path d="M633.59,240.5L641.45,240.5L640.32,239.96L632.78,239.96Z" fill="#4c5a52"/>
<path d="M641.45,240.5L649.3,240.5L647.86,239.96L640.32,239.96Z" fill="#55645b"/>
<path d="M649.3,240.5L657.15,240.5L655.4,239.96L647.86,239.96Z" fill="#4c5a52"/>
<path d="M657.15,240.5L665.01,240.5L662.94,239.96L655.4,239.96Z" fill="#55645b"/>
<path d="M665.01,240.5L672.86,240.5L670.48,239.96L662.94,239.96Z" fill="#4c5a52"/>
<path d="M672.86,240.5L680.71,240.5L678.02,239.96L670.48,239.96Z" fill="#55645b"/>
<path d="M680.71,240.5L688.56,240.5L685.56,239.96L678.02,239.96Z" fill="#4c5a52"/>
<path d="M536.15,241.09L544.34,241.09L547.21,240.5L539.36,240.5Z" fill="#57675d"/>
<path d="M544.34,241.09L552.53,241.09L555.06,240.5L547.21,240.5Z" fill="#4a5850"/>
<path d="M552.53,241.09L560.73,241.09L562.92,240.5L555.06,240.5Z" fill="#57675d"/>
<path d="M560.73,241.09L568.92,241.09L570.77,240.5L562.92,240.5Z" fill="#4a5850"/>
<path d="M568.92,241.09L577.12,241.09L578.62,240.5L570.77,240.5Z" fill="#57675d"/>
<path d="M577.12,241.09L585.31,241.09L586.47,240.5L578.62,240.5Z" fill="#4a5850"/>
<path d="M585.31,241.09L593.5,241.09L594.33,240.5L586.47,240.5Z" fill="#57675d"/>
<path d="M593.5,241.09L601.7,241.09L602.18,240.5L594.33,240.5Z" fill="#4a5850"/>
<path d="M601.7,241.09L609.89,241.09L610.03,240.5L602.18,240.5Z" fill="#57675d"/>
<path d="M609.89,241.09L618.09,241.09L617.89,240.5L610.03,240.5Z" fill="#4a5850"/>
<path d="M618.09,241.09L626.28,241.09L625.74,240.5L617.89,240.5Z" fill="#57675d"/>
<path d="M626.28,241.09L634.47,241.09L633.59,240.5L625.74,240.5Z" fill="#4a5850"/>
<path d="M634.47,241.09L642.67,241.09L641.45,240.5L633.59,240.5Z" fill="#57675d"/>
<path d="M642.67,241.09L650.86,241.09L649.3,240.5L641.45,240.5Z" fill="#4a5850"/>
<path d="M650.86,241.09L659.06,241.09L657.15,240.5L649.3,240.5Z" fill="#57675d"/>
<path d="M659.06,241.09L667.25,241.09L665.01,240.5L657.15,240.5Z" fill="#4a5850"/>
<path d="M667.25,241.09L675.44,241.09L672.86,240.5L665.01,240.5Z" fill="#57675d"/>
<path d="M675.44,241.09L683.64,241.09L680.71,240.5L672.86,240.5Z" fill="#4a5850"/>
<path d="M683.64,241.09L691.83,241.09L688.56,240.5L680.71,240.5Z" fill="#57675d"/>
<path d="M532.65,241.73L541.21,241.73L544.34,241.09L536.15,241.09Z" fill="#48554d"/>
<path d="M541.21,241.73L549.78,241.73L552.53,241.09L544.34,241.09Z" fill="#5a6a5f"/>
<path d="M549.78,241.73L558.34,241.73L560.73,241.09L552.53,241.09Z" fill="#48554d"/>
<path d="M558.34,241.73L566.91,241.73L568.92,241.09L560.73,241.09Z" fill="#5a6a5f"/>
<path d="M566.91,241.73L575.48,241.73L577.12,241.09L568.92,241.09Z" fill="#48554d"/>
<path d="M575.48,241.73L584.04,241.73L585.31,241.09L577.12,241.09Z" fill="#5a6a5f"/>
<path d="M584.04,241.73L592.61,241.73L593.5,241.09L585.31,241.09Z" fill="#48554d"/>
<path d="M592.61,241.73L601.17,241.73L601.7,241.09L593.5,241.09Z" fill="#5a6a5f"/>
<path d="M601.17,241.73L609.74,241.73L609.89,241.09L601.7,241.09Z" fill="#48554d"/>
<path d="M609.74,241.73L618.3,241.73L618.09,241.09L609.89,241.09Z" fill="#5a6a5f"/>
<path d="M618.3,241.73L626.87,241.73L626.28,241.09L618.09,241.09Z" fill="#48554d"/>
<path d="M626.87,241.73L635.43,241.73L634.47,241.09L626.28,241.09Z" fill="#5a6a5f"/>
<path d="M635.43,241.73L644,241.73L642.67,241.09L634.47,241.09Z" fill="#48554d"/>
<path d="M644,241.73L652.57,241.73L650.86,241.09L642.67,241.09Z" fill="#5a6a5f"/>
<path d="M652.57,241.73L661.13,241.73L659.06,241.09L650.86,241.09Z" fill="#48554d"/>
<path d="M661.13,241.73L669.7,241.73L667.25,241.09L659.06,241.09Z" fill="#5a6a5f"/>
<path d="M669.7,241.73L678.26,241.73L675.44,241.09L667.25,241.09Z" fill="#48554d"/>
<path d="M678.26,241.73L686.83,241.73L683.64,241.09L675.44,241.09Z" fill="#5a6a5f"/>
<path d="M537.79,242.43L546.76,242.43L549.78,241.73L541.21,241.73Z" fill="#45514a"/>
<path d="M546.76,242.43L555.73,242.43L558.34,241.73L549.78,241.73Z" fill="#5e6e63"/>
<path d="M555.73,242.43L564.71,242.43L566.91,241.73L558.34,241.73Z" fill="#45514a"/>
<path d="M564.71,242.43L573.68,242.43L575.48,241.73L566.91,241.73Z" fill="#5e6e63"/>
<path d="M573.68,242.43L582.65,242.43L584.04,241.73L575.48,241.73Z" fill="#45514a"/>
<path d="M582.65,242.43L591.62,242.43L592.61,241.73L584.04,241.73Z" fill="#5e6e63"/>
<path d="M591.62,242.43L600.6,242.43L601.17,241.73L592.61,241.73Z" fill="#45514a"/>
<path d="M600.6,242.43L609.57,242.43L609.74,241.73L601.17,241.73Z" fill="#5e6e63"/>
<path d="M609.57,242.43L618.54,242.43L618.3,241.73L609.74,241.73Z" fill="#45514a"/>
<path d="M618.54,242.43L627.51,242.43L626.87,241.73L618.3,241.73Z" fill="#5e6e63"/>
<path d="M627.51,242.43L636.49,242.43L635.43,241.73L626.87,241.73Z" fill="#45514a"/>
<path d="M636.49,242.43L645.46,242.43L644,241.73L635.43,241.73Z" fill="#5e6e63"/>
<path d="M645.46,242.43L654.43,242.43L652.57,241.73L644,241.73Z" fill="#45514a"/>
<path d="M654.43,242.43L663.4,242.43L661.13,241.73L652.57,241.73Z" fill="#5e6e63"/>
<path d="M663.4,242.43L672.38,242.43L669.7,241.73L661.13,241.73Z" fill="#45514a"/>
<path d="M672.38,242.43L681.35,242.43L678.26,241.73L669.7,241.73Z" fill="#5e6e63"/>
<path d="M681.35,242.43L690.32,242.43L686.83,241.73L678.26,241.73Z" fill="#45514a"/>
<path d="M534.02,243.2L543.44,243.2L546.76,242.43L537.79,242.43Z" fill="#627368"/>
<path d="M543.44,243.2L552.86,243.2L555.73,242.43L546.76,242.43Z" fill="#414d46"/>
<path d="M552.86,243.2L562.28,243.2L564.71,242.43L555.73,242.43Z" fill="#627368"/>
<path d="M562.28,243.2L571.7,243.2L573.68,242.43L564.71,242.43Z" fill="#414d46"/>
<path d="M571.7,243.2L581.12,243.2L582.65,242.43L573.68,242.43Z" fill="#627368"/>
<path d="M581.12,243.2L590.54,243.2L591.62,242.43L582.65,242.43Z" fill="#414d46"/>
<path d="M590.54,243.2L599.96,243.2L600.6,242.43L591.62,242.43Z" fill="#627368"/>
<path d="M599.96,243.2L609.38,243.2L609.57,242.43L600.6,242.43Z" fill="#414d46"/>
<path d="M609.38,243.2L618.8,243.2L618.54,242.43L609.57,242.43Z" fill="#627368"/>
<path d="M618.8,243.2L628.22,243.2L627.51,242.43L618.54,242.43Z" fill="#414d46"/>
<path d="M628.22,243.2L637.64,243.2L636.49,242.43L627.51,242.43Z" fill="#627368"/>
<path d="M637.64,243.2L647.06,243.2L645.46,242.43L636.49,242.43Z" fill="#414d46"/>
<path d="M647.06,243.2L656.48,243.2L654.43,242.43L645.46,242.43Z" fill="#627368"/>
<path d="M656.48,243.2L665.9,243.2L663.4,242.43L654.43,242.43Z" fill="#414d46"/>
<path d="M665.9,243.2L675.32,243.2L672.38,242.43L663.4,242.43Z" fill="#627368"/>
<path d="M675.32,243.2L684.74,243.2L681.35,242.43L672.38,242.43Z" fill="#414d46"/>
<path d="M684.74,243.2L694.16,243.2L690.32,242.43L681.35,242.43Z" fill="#627368"/>
<path d="M529.86,244.05L539.77,244.05L543.44,243.2L534.02,243.2Z" fill="#3c4740"/>
<path d="M539.77,244.05L549.69,244.05L552.86,243.2L543.44,243.2Z" fill="#687a6d"/>
<path d="M549.69,244.05L559.6,244.05L562.28,243.2L552.86,243.2Z" fill="#3c4740"/>
<path d="M559.6,244.05L569.52,244.05L571.7,243.2L562.28,243.2Z" fill="#687a6d"/>
<path d="M569.52,244.05L579.43,244.05L581.12,243.2L571.7,243.2Z" fill="#3c4740"/>
<path d="M579.43,244.05L589.35,244.05L590.54,243.2L581.12,243.2Z" fill="#687a6d"/>
<path d="M589.35,244.05L599.26,244.05L599.96,243.2L590.54,243.2Z" fill="#3c4740"/>
<path d="M599.26,244.05L609.18,244.05L609.38,243.2L599.96,243.2Z" fill="#687a6d"/>
<path d="M609.18,244.05L619.09,244.05L618.8,243.2L609.38,243.2Z" fill="#3c4740"/>
<path d="M619.09,244.05L629.01,244.05L628.22,243.2L618.8,243.2Z" fill="#687a6d"/>
<path d="M629.01,244.05L638.92,244.05L637.64,243.2L628.22,243.2Z" fill="#3c4740"/>
<path d="M638.92,244.05L648.84,244.05L647.06,243.2L637.64,243.2Z" fill="#687a6d"/>
<path d="M648.84,244.05L658.75,244.05L656.48,243.2L647.06,243.2Z" fill="#3c4740"/>
<path d="M658.75,244.05L668.66,244.05L665.9,243.2L656.48,243.2Z" fill="#687a6d"/>
<path d="M668.66,244.05L678.58,244.05L675.32,243.2L665.9,243.2Z" fill="#3c4740"/>
<path d="M678.58,244.05L688.49,244.05L684.74,243.2L675.32,243.2Z" fill="#687a6d"/>
<path d="M535.7,244.99L546.16,244.99L549.69,244.05L539.77,244.05Z" fill="#37413b"/>
<path d="M546.16,244.99L556.63,244.99L559.6,244.05L549.69,244.05Z" fill="#6f8173"/>
<path d="M556.63,244.99L567.09,244.99L569.52,244.05L559.6,244.05Z" fill="#37413b"/>
<path d="M567.09,244.99L577.56,244.99L579.43,244.05L569.52,244.05Z" fill="#6f8173"/>
<path d="M577.56,244.99L588.02,244.99L589.35,244.05L579.43,244.05Z" fill="#37413b"/>
<path d="M588.02,244.99L598.48,244.99L599.26,244.05L589.35,244.05Z" fill="#6f8173"/>
<path d="M598.48,244.99L608.95,244.99L609.18,244.05L599.26,244.05Z" fill="#37413b"/>
<path d="M608.95,244.99L619.41,244.99L619.09,244.05L609.18,244.05Z" fill="#6f8173"/>
<path d="M619.41,244.99L629.88,244.99L629.01,244.05L619.09,244.05Z" fill="#37413b"/>
<path d="M629.88,244.99L640.34,244.99L638.92,244.05L629.01,244.05Z" fill="#6f8173"/>
<path d="M640.34,244.99L650.8,244.99L648.84,244.05L638.92,244.05Z" fill="#37413b"/>
<path d="M650.8,244.99L661.27,244.99L658.75,244.05L648.84,244.05Z" fill="#6f8173"/>
<path d="M661.27,244.99L671.73,244.99L668.66,244.05L658.75,244.05Z" fill="#37413b"/>
<path d="M671.73,244.99L682.2,244.99L678.58,244.05L668.66,244.05Z" fill="#6f8173"/>
<path d="M682.2,244.99L692.66,244.99L688.49,244.05L678.58,244.05Z" fill="#37413b"/>
<path d="M531.15,246.05L542.22,246.05L546.16,244.99L535.7,244.99Z" fill="#76897a"/>
<path d="M542.22,246.05L553.3,246.05L556.63,244.99L546.16,244.99Z" fill="#313a34"/>
<path d="M553.3,246.05L564.38,246.05L567.09,244.99L556.63,244.99Z" fill="#76897a"/>
<path d="M564.38,246.05L575.46,246.05L577.56,244.99L567.09,244.99Z" fill="#313a34"/>
<path d="M575.46,246.05L586.54,246.05L588.02,244.99L577.56,244.99Z" fill="#76897a"/>
<path d="M586.54,246.05L597.61,246.05L598.48,244.99L588.02,244.99Z" fill="#313a34"/>
<path d="M597.61,246.05L608.69,246.05L608.95,244.99L598.48,244.99Z" fill="#76897a"/>
<path d="M608.69,246.05L619.77,246.05L619.41,244.99L608.95,244.99Z" fill="#313a34"/>
<path d="M619.77,246.05L630.85,246.05L629.88,244.99L619.41,244.99Z" fill="#76897a"/>
<path d="M630.85,246.05L641.93,246.05L640.34,244.99L629.88,244.99Z" fill="#313a34"/>
<path d="M641.93,246.05L653,246.05L650.8,244.99L640.34,244.99Z" fill="#76897a"/>
<path d="M653,246.05L664.08,246.05L661.27,244.99L650.8,244.99Z" fill="#313a34"/>
<path d="M664.08,246.05L675.16,246.05L671.73,244.99L661.27,244.99Z" fill="#76897a"/>
<path d="M675.16,246.05L686.24,246.05L682.2,244.99L671.73,244.99Z" fill="#313a34"/>
<path d="M526.03,247.23L537.79,247.23L542.22,246.05L531.15,246.05Z" fill="#2a322d"/>
<path d="M537.79,247.23L549.56,247.23L553.3,246.05L542.22,246.05Z" fill="#7d9182"/>
<path d="M549.56,247.23L561.33,247.23L564.38,246.05L553.3,246.05Z" fill="#2a322d"/>
<path d="M561.33,247.23L573.1,247.23L575.46,246.05L564.38,246.05Z" fill="#7d9182"/>
<path d="M573.1,247.23L584.87,247.23L586.54,246.05L575.46,246.05Z" fill="#2a322d"/>
<path d="M584.87,247.23L596.64,247.23L597.61,246.05L586.54,246.05Z" fill="#7d9182"/>
<path d="M596.64,247.23L608.41,247.23L608.69,246.05L597.61,246.05Z" fill="#2a322d"/>
<path d="M608.41,247.23L620.17,247.23L619.77,246.05L608.69,246.05Z" fill="#7d9182"/>
<path d="M620.17,247.23L631.94,247.23L630.85,246.05L619.77,246.05Z" fill="#2a322d"/>
<path d="M631.94,247.23L643.71,247.23L641.93,246.05L630.85,246.05Z" fill="#7d9182"/>
<path d="M643.71,247.23L655.48,247.23L653,246.05L641.93,246.05Z" fill="#2a322d"/>
<path d="M655.48,247.23L667.25,247.23L664.08,246.05L653,246.05Z" fill="#7d9182"/>
<path d="M667.25,247.23L679.02,247.23L675.16,246.05L664.08,246.05Z" fill="#2a322d"/>
<path d="M679.02,247.23L690.78,247.23L686.24,246.05L675.16,246.05Z" fill="#7d9182"/>
<path d="M532.78,248.58L545.33,248.58L549.56,247.23L537.79,247.23Z" fill="#232a26"/>
<path d="M545.33,248.58L557.88,248.58L561.33,247.23L549.56,247.23Z" fill="#869a89"/>
<path d="M557.88,248.58L570.43,248.58L573.1,247.23L561.33,247.23Z" fill="#232a26"/>
<path d="M570.43,248.58L582.98,248.58L584.87,247.23L573.1,247.23Z" fill="#869a89"/>
<path d="M582.98,248.58L595.53,248.58L596.64,247.23L584.87,247.23Z" fill="#232a26"/>
<path d="M595.53,248.58L608.08,248.58L608.41,247.23L596.64,247.23Z" fill="#869a89"/>
<path d="M608.08,248.58L620.63,248.58L620.17,247.23L608.41,247.23Z" fill="#232a26"/>
<path d="M620.63,248.58L633.18,248.58L631.94,247.23L620.17,247.23Z" fill="#869a89"/>
<path d="M633.18,248.58L645.73,248.58L643.71,247.23L631.94,247.23Z" fill="#232a26"/>
<path d="M645.73,248.58L658.28,248.58L655.48,247.23L643.71,247.23Z" fill="#869a89"/>
<path d="M658.28,248.58L670.83,248.58L667.25,247.23L655.48,247.23Z" fill="#232a26"/>
<path d="M670.83,248.58L683.38,248.58L679.02,247.23L667.25,247.23Z" fill="#869a89"/>
<path d="M683.38,248.58L695.93,248.58L690.78,247.23L679.02,247.23Z" fill="#232a26"/>
<path d="M527.04,250.12L540.49,250.12L545.33,248.58L532.78,248.58Z" fill="#8da391"/>
<path d="M540.49,250.12L553.93,250.12L557.88,248.58L545.33,248.58Z" fill="#1d221f"/>
<path d="M553.93,250.12L567.38,250.12L570.43,248.58L557.88,248.58Z" fill="#8da391"/>
<path d="M567.38,250.12L580.82,250.12L582.98,248.58L570.43,248.58Z" fill="#1d221f"/>
<path d="M580.82,250.12L594.26,250.12L595.53,248.58L582.98,248.58Z" fill="#8da391"/>
<path d="M594.26,250.12L607.71,250.12L608.08,248.58L595.53,248.58Z" fill="#1d221f"/>
<path d="M607.71,250.12L621.15,250.12L620.63,248.58L608.08,248.58Z" fill="#8da391"/>
<path d="M621.15,250.12L634.6,250.12L633.18,248.58L620.63,248.58Z" fill="#1d221f"/>
<path d="M634.6,250.12L648.04,250.12L645.73,248.58L633.18,248.58Z" fill="#8da391"/>
<path d="M648.04,250.12L661.49,250.12L658.28,248.58L645.73,248.58Z" fill="#1d221f"/>
<path d="M661.49,250.12L674.93,250.12L670.83,248.58L658.28,248.58Z" fill="#8da391"/>
<path d="M674.93,250.12L688.37,250.12L683.38,248.58L670.83,248.58Z" fill="#1d221f"/>
<path d="M534.91,251.89L549.38,251.89L553.93,250.12L540.49,250.12Z" fill="#95ab98"/>
<path d="M549.38,251.89L563.86,251.89L567.38,250.12L553.93,250.12Z" fill="#161b18"/>
<path d="M563.86,251.89L578.33,251.89L580.82,250.12L567.38,250.12Z" fill="#95ab98"/>
<path d="M578.33,251.89L592.8,251.89L594.26,250.12L580.82,250.12Z" fill="#161b18"/>
<path d="M592.8,251.89L607.28,251.89L607.71,250.12L594.26,250.12Z" fill="#95ab98"/>
<path d="M607.28,251.89L621.75,251.89L621.15,250.12L607.71,250.12Z" fill="#161b18"/>
<path d="M621.75,251.89L636.23,251.89L634.6,250.12L621.15,250.12Z" fill="#95ab98"/>
<path d="M636.23,251.89L650.7,251.89L648.04,250.12L634.6,250.12Z" fill="#161b18"/>
<path d="M650.7,251.89L665.18,251.89L661.49,250.12L648.04,250.12Z" fill="#95ab98"/>
<path d="M665.18,251.89L679.65,251.89L674.93,250.12L661.49,250.12Z" fill="#161b18"/>
<path d="M679.65,251.89L694.13,251.89L688.37,250.12L674.93,250.12Z" fill="#95ab98"/>
<path d="M528.4,253.95L544.07,253.95L549.38,251.89L534.91,251.89Z" fill="#111412"/>
<path d="M544.07,253.95L559.75,253.95L563.86,251.89L549.38,251.89Z" fill="#9cb39f"/>
<path d="M559.75,253.95L575.43,253.95L578.33,251.89L563.86,251.89Z" fill="#111412"/>
<path d="M575.43,253.95L591.1,253.95L592.8,251.89L578.33,251.89Z" fill="#9cb39f"/>
<path d="M591.1,253.95L606.78,253.95L607.28,251.89L592.8,251.89Z" fill="#111412"/>
<path d="M606.78,253.95L622.46,253.95L621.75,251.89L607.28,251.89Z" fill="#9cb39f"/>
<path d="M622.46,253.95L638.13,253.95L636.23,251.89L621.75,251.89Z" fill="#111412"/>
<path d="M638.13,253.95L653.81,253.95L650.7,251.89L636.23,251.89Z" fill="#9cb39f"/>
<path d="M653.81,253.95L669.49,253.95L665.18,251.89L650.7,251.89Z" fill="#111412"/>
<path d="M669.49,253.95L685.16,253.95L679.65,251.89L665.18,251.89Z" fill="#9cb39f"/>
<path d="M685.16,253.95L700.84,253.95L694.13,251.89L679.65,251.89Z" fill="#111412"/>
<path d="M520.71,256.39L537.81,256.39L544.07,253.95L528.4,253.95Z" fill="#a2baa5"/>
<path d="M537.81,256.39L554.9,256.39L559.75,253.95L544.07,253.95Z" fill="#0b0e0c"/>
<path d="M554.9,256.39L572,256.39L575.43,253.95L559.75,253.95Z" fill="#a2baa5"/>
<path d="M572,256.39L589.09,256.39L591.1,253.95L575.43,253.95Z" fill="#0b0e0c"/>
<path d="M589.09,256.39L606.19,256.39L606.78,253.95L591.1,253.95Z" fill="#a2baa5"/>
<path d="M606.19,256.39L623.29,256.39L622.46,253.95L606.78,253.95Z" fill="#0b0e0c"/>
<path d="M623.29,256.39L640.38,256.39L638.13,253.95L622.46,253.95Z" fill="#a2baa5"/>
<path d="M640.38,256.39L657.48,256.39L653.81,253.95L638.13,253.95Z" fill="#0b0e0c"/>
<path d="M657.48,256.39L674.57,256.39L669.49,253.95L653.81,253.95Z" fill="#a2baa5"/>
<path d="M674.57,256.39L691.67,256.39L685.16,253.95L669.49,253.95Z" fill="#0b0e0c"/>
<path d="M530.29,259.32L549.09,259.32L554.9,256.39L537.81,256.39Z" fill="#a7bfaa"/>
<path d="M549.09,259.32L567.89,259.32L572,256.39L554.9,256.39Z" fill="#070908"/>
<path d="M567.89,259.32L586.68,259.32L589.09,256.39L572,256.39Z" fill="#a7bfaa"/>
<path d="M586.68,259.32L605.48,259.32L606.19,256.39L589.09,256.39Z" fill="#070908"/>
<path d="M605.48,259.32L624.28,259.32L623.29,256.39L606.19,256.39Z" fill="#a7bfaa"/>
<path d="M624.28,259.32L643.08,259.32L640.38,256.39L623.29,256.39Z" fill="#070908"/>
<path d="M643.08,259.32L661.87,259.32L657.48,256.39L640.38,256.39Z" fill="#a7bfaa"/>
<path d="M661.87,259.32L680.67,259.32L674.57,256.39L657.48,256.39Z" fill="#070908"/>
<path d="M680.67,259.32L699.47,259.32L691.67,256.39L674.57,256.39Z" fill="#a7bfaa"/>
<path d="M521.11,262.89L541.99,262.89L549.09,259.32L530.29,259.32Z" fill="#040504"/>
<path d="M541.99,262.89L562.87,262.89L567.89,259.32L549.09,259.32Z" fill="#abc4ad"/>
<path d="M562.87,262.89L583.74,262.89L586.68,259.32L567.89,259.32Z" fill="#040504"/>
<path d="M583.74,262.89L604.62,262.89L605.48,259.32L586.68,259.32Z" fill="#abc4ad"/>
<path d="M604.62,262.89L625.49,262.89L624.28,259.32L605.48,259.32Z" fill="#040504"/>
<path d="M625.49,262.89L646.37,262.89L643.08,259.32L624.28,259.32Z" fill="#abc4ad"/>
<path d="M646.37,262.89L667.24,262.89L661.87,259.32L643.08,259.32Z" fill="#040504"/>
<path d="M667.24,262.89L688.12,262.89L680.67,259.32L661.87,259.32Z" fill="#abc4ad"/>
<path d="M688.12,262.89L709,262.89L699.47,259.32L680.67,259.32Z" fill="#040504"/>
<path d="M509.66,267.36L533.13,267.36L541.99,262.89L521.11,262.89Z" fill="#aec6b0"/>
<path d="M533.13,267.36L556.6,267.36L562.87,262.89L541.99,262.89Z" fill="#020202"/>
<path d="M556.6,267.36L580.07,267.36L583.74,262.89L562.87,262.89Z" fill="#aec6b0"/>
<path d="M580.07,267.36L603.54,267.36L604.62,262.89L583.74,262.89Z" fill="#020202"/>
<path d="M603.54,267.36L627.01,267.36L625.49,262.89L604.62,262.89Z" fill="#aec6b0"/>
<path d="M627.01,267.36L650.48,267.36L646.37,262.89L625.49,262.89Z" fill="#020202"/>
<path d="M650.48,267.36L673.95,267.36L667.24,262.89L646.37,262.89Z" fill="#aec6b0"/>
<path d="M673.95,267.36L697.42,267.36L688.12,262.89L667.24,262.89Z" fill="#020202"/>
<path d="M521.75,273.08L548.55,273.08L556.6,267.36L533.13,267.36Z" fill="#afc8b1"/>
<path d="M548.55,273.08L575.35,273.08L580.07,267.36L556.6,267.36Z" fill="#010101"/>
<path d="M575.35,273.08L602.15,273.08L603.54,267.36L580.07,267.36Z" fill="#afc8b1"/>
<path d="M602.15,273.08L628.95,273.08L627.01,267.36L603.54,267.36Z" fill="#010101"/>
<path d="M628.95,273.08L655.76,273.08L650.48,267.36L627.01,267.36Z" fill="#afc8b1"/>
<path d="M655.76,273.08L682.56,273.08L673.95,267.36L650.48,267.36Z" fill="#010101"/>
<path d="M682.56,273.08L709.36,273.08L697.42,267.36L673.95,267.36Z" fill="#afc8b1"/>
<path d="M506.6,280.71L537.84,280.71L548.55,273.08L521.75,273.08Z" fill="#000000"/>
<path d="M537.84,280.71L569.07,280.71L575.35,273.08L548.55,273.08Z" fill="#b0c9b2"/>
<path d="M569.07,280.71L600.31,280.71L602.15,273.08L575.35,273.08Z" fill="#000000"/>
<path d="M600.31,280.71L631.54,280.71L628.95,273.08L602.15,273.08Z" fill="#b0c9b2"/>
<path d="M631.54,280.71L662.78,280.71L655.76,273.08L628.95,273.08Z" fill="#000000"/>
<path d="M662.78,280.71L694.01,280.71L682.56,273.08L655.76,273.08Z" fill="#b0c9b2"/>
<path d="M522.88,291.35L560.31,291.35L569.07,280.71L537.84,280.71Z" fill="#000000"/>
<path d="M560.31,291.35L597.73,291.35L600.31,280.71L569.07,280.71Z" fill="#b0c9b2"/>
<path d="M597.73,291.35L635.16,291.35L631.54,280.71L600.31,280.71Z" fill="#000000"/>
<path d="M635.16,291.35L672.59,291.35L662.78,280.71L631.54,280.71Z" fill="#b0c9b2"/>
<path d="M672.59,291.35L710.01,291.35L694.01,280.71L662.78,280.71Z" fill="#000000"/>
<path d="M500.53,307.26L547.21,307.26L560.31,291.35L522.88,291.35Z" fill="#b0c9b2"/>
<path d="M547.21,307.26L593.89,307.26L597.73,291.35L560.31,291.35Z" fill="#000000"/>
<path d="M593.89,307.26L640.56,307.26L635.16,291.35L597.73,291.35Z" fill="#b0c9b2"/>
<path d="M640.56,307.26L687.24,307.26L672.59,291.35L635.16,291.35Z" fill="#000000"/>
<path d="M687.24,307.26L733.92,307.26L710.01,291.35L672.59,291.35Z" fill="#b0c9b2"/>
</g>
<clipPath id="cr"><rect x="682.5" y="235.2" width="138.60000000000002" height="69.19999999999999"/></clipPath>
<g clip-path="url(#cr)">
<rect x="682.5" y="234.7" width="138.60000000000002" height="69.69999999999999" fill="#505f56"/>
<path d="M678.23,237.94L684.66,237.94L686.93,237.59L680.71,237.59Z" fill="#505f56"/>
<path d="M684.66,237.94L691.09,237.94L693.14,237.59L686.93,237.59Z" fill="#505f56"/>
<path d="M691.09,237.94L697.52,237.94L699.36,237.59L693.14,237.59Z" fill="#505f56"/>
<path d="M697.52,237.94L703.95,237.94L705.57,237.59L699.36,237.59Z" fill="#505f56"/>
<path d="M703.95,237.94L710.38,237.94L711.79,237.59L705.57,237.59Z" fill="#505f56"/>
<path d="M710.38,237.94L716.81,237.94L718.01,237.59L711.79,237.59Z" fill="#505f56"/>
<path d="M716.81,237.94L723.24,237.94L724.22,237.59L718.01,237.59Z" fill="#505f56"/>
<path d="M723.24,237.94L729.67,237.94L730.44,237.59L724.22,237.59Z" fill="#505f56"/>
<path d="M729.67,237.94L736.1,237.94L736.65,237.59L730.44,237.59Z" fill="#505f56"/>
<path d="M736.1,237.94L742.53,237.94L742.87,237.59L736.65,237.59Z" fill="#505f56"/>
<path d="M742.53,237.94L748.96,237.94L749.09,237.59L742.87,237.59Z" fill="#505f56"/>
<path d="M748.96,237.94L755.39,237.94L755.3,237.59L749.09,237.59Z" fill="#505f56"/>
<path d="M755.39,237.94L761.82,237.94L761.52,237.59L755.3,237.59Z" fill="#505f56"/>
<path d="M761.82,237.94L768.25,237.94L767.73,237.59L761.52,237.59Z" fill="#505f56"/>
<path d="M768.25,237.94L774.68,237.94L773.95,237.59L767.73,237.59Z" fill="#505f56"/>
<path d="M774.68,237.94L781.11,237.94L780.17,237.59L773.95,237.59Z" fill="#505f56"/>
<path d="M781.11,237.94L787.54,237.94L786.38,237.59L780.17,237.59Z" fill="#505f56"/>
<path d="M787.54,237.94L793.97,237.94L792.6,237.59L786.38,237.59Z" fill="#505f56"/>
<path d="M793.97,237.94L800.4,237.94L798.81,237.59L792.6,237.59Z" fill="#505f56"/>
<path d="M800.4,237.94L806.83,237.94L805.03,237.59L798.81,237.59Z" fill="#505f56"/>
<path d="M806.83,237.94L813.26,237.94L811.25,237.59L805.03,237.59Z" fill="#505f56"/>
<path d="M813.26,237.94L819.69,237.94L817.46,237.59L811.25,237.59Z" fill="#505f56"/>
<path d="M819.69,237.94L826.12,237.94L823.68,237.59L817.46,237.59Z" fill="#505f56"/>
<path d="M675.57,238.31L682.23,238.31L684.66,237.94L678.23,237.94Z" fill="#505f56"/>
<path d="M682.23,238.31L688.89,238.31L691.09,237.94L684.66,237.94Z" fill="#505f56"/>
<path d="M688.89,238.31L695.55,238.31L697.52,237.94L691.09,237.94Z" fill="#505f56"/>
<path d="M695.55,238.31L702.21,238.31L703.95,237.94L697.52,237.94Z" fill="#505f56"/>
<path d="M702.21,238.31L708.86,238.31L710.38,237.94L703.95,237.94Z" fill="#505f56"/>
<path d="M708.86,238.31L715.52,238.31L716.81,237.94L710.38,237.94Z" fill="#505f56"/>
<path d="M715.52,238.31L722.18,238.31L723.24,237.94L716.81,237.94Z" fill="#505f56"/>
<path d="M722.18,238.31L728.84,238.31L729.67,237.94L723.24,237.94Z" fill="#505f56"/>
<path d="M728.84,238.31L735.5,238.31L736.1,237.94L729.67,237.94Z" fill="#505f56"/>
<path d="M735.5,238.31L742.16,238.31L742.53,237.94L736.1,237.94Z" fill="#505f56"/>
<path d="M742.16,238.31L748.82,238.31L748.96,237.94L742.53,237.94Z" fill="#505f56"/>
<path d="M748.82,238.31L755.48,238.31L755.39,237.94L748.96,237.94Z" fill="#505f56"/>
<path d="M755.48,238.31L762.14,238.31L761.82,237.94L755.39,237.94Z" fill="#505f56"/>
<path d="M762.14,238.31L768.8,238.31L768.25,237.94L761.82,237.94Z" fill="#505f56"/>
<path d="M768.8,238.31L775.46,238.31L774.68,237.94L768.25,237.94Z" fill="#505f56"/>
<path d="M775.46,238.31L782.12,238.31L781.11,237.94L774.68,237.94Z" fill="#505f56"/>
<path d="M782.12,238.31L788.78,238.31L787.54,237.94L781.11,237.94Z" fill="#505f56"/>
<path d="M788.78,238.31L795.44,238.31L793.97,237.94L787.54,237.94Z" fill="#505f56"/>
<path d="M795.44,238.31L802.1,238.31L800.4,237.94L793.97,237.94Z" fill="#505f56"/>
<path d="M802.1,238.31L808.76,238.31L806.83,237.94L800.4,237.94Z" fill="#505f56"/>
<path d="M808.76,238.31L815.42,238.31L813.26,237.94L806.83,237.94Z" fill="#505f56"/>
<path d="M815.42,238.31L822.08,238.31L819.69,237.94L813.26,237.94Z" fill="#505f56"/>
<path d="M822.08,238.31L828.74,238.31L826.12,237.94L819.69,237.94Z" fill="#505f56"/>
<path d="M672.71,238.71L679.62,238.71L682.23,238.31L675.57,238.31Z" fill="#505f56"/>
<path d="M679.62,238.71L686.52,238.71L688.89,238.31L682.23,238.31Z" fill="#505f56"/>
<path d="M686.52,238.71L693.43,238.71L695.55,238.31L688.89,238.31Z" fill="#505f56"/>
<path d="M693.43,238.71L700.33,238.71L702.21,238.31L695.55,238.31Z" fill="#505f56"/>
<path d="M700.33,238.71L707.24,238.71L708.86,238.31L702.21,238.31Z" fill="#505f56"/>
<path d="M707.24,238.71L714.15,238.71L715.52,238.31L708.86,238.31Z" fill="#505f56"/>
<path d="M714.15,238.71L721.05,238.71L722.18,238.31L715.52,238.31Z" fill="#505f56"/>
<path d="M721.05,238.71L727.96,238.71L728.84,238.31L722.18,238.31Z" fill="#505f56"/>
<path d="M727.96,238.71L734.86,238.71L735.5,238.31L728.84,238.31Z" fill="#505f56"/>
<path d="M734.86,238.71L741.77,238.71L742.16,238.31L735.5,238.31Z" fill="#505f56"/>
<path d="M741.77,238.71L748.67,238.71L748.82,238.31L742.16,238.31Z" fill="#505f56"/>
<path d="M748.67,238.71L755.58,238.71L755.48,238.31L748.82,238.31Z" fill="#505f56"/>
<path d="M755.58,238.71L762.49,238.71L762.14,238.31L755.48,238.31Z" fill="#505f56"/>
<path d="M762.49,238.71L769.39,238.71L768.8,238.31L762.14,238.31Z" fill="#505f56"/>
<path d="M769.39,238.71L776.3,238.71L775.46,238.31L768.8,238.31Z" fill="#505f56"/>
<path d="M776.3,238.71L783.2,238.71L782.12,238.31L775.46,238.31Z" fill="#505f56"/>
<path d="M783.2,238.71L790.11,238.71L788.78,238.31L782.12,238.31Z" fill="#505f56"/>
<path d="M790.11,238.71L797.02,238.71L795.44,238.31L788.78,238.31Z" fill="#505f56"/>
<path d="M797.02,238.71L803.92,238.71L802.1,238.31L795.44,238.31Z" fill="#505f56"/>
<path d="M803.92,238.71L810.83,238.71L808.76,238.31L802.1,238.31Z" fill="#505f56"/>
<path d="M810.83,238.71L817.73,238.71L815.42,238.31L808.76,238.31Z" fill="#505f56"/>
<path d="M817.73,238.71L824.64,238.71L822.08,238.31L815.42,238.31Z" fill="#505f56"/>
<path d="M824.64,238.71L831.54,238.71L828.74,238.31L822.08,238.31Z" fill="#505f56"/>
<path d="M676.8,239.14L683.98,239.14L686.52,238.71L679.62,238.71Z" fill="#4f5e55"/>
<path d="M683.98,239.14L691.15,239.14L693.43,238.71L686.52,238.71Z" fill="#516057"/>
<path d="M691.15,239.14L698.32,239.14L700.33,238.71L693.43,238.71Z" fill="#4f5e55"/>
<path d="M698.32,239.14L705.49,239.14L707.24,238.71L700.33,238.71Z" fill="#516057"/>
<path d="M705.49,239.14L712.66,239.14L714.15,238.71L707.24,238.71Z" fill="#4f5e55"/>
<path d="M712.66,239.14L719.83,239.14L721.05,238.71L714.15,238.71Z" fill="#516057"/>
<path d="M719.83,239.14L727,239.14L727.96,238.71L721.05,238.71Z" fill="#4f5e55"/>
<path d="M727,239.14L734.17,239.14L734.86,238.71L727.96,238.71Z" fill="#516057"/>
<path d="M734.17,239.14L741.34,239.14L741.77,238.71L734.86,238.71Z" fill="#4f5e55"/>
<path d="M741.34,239.14L748.52,239.14L748.67,238.71L741.77,238.71Z" fill="#516057"/>
<path d="M748.52,239.14L755.69,239.14L755.58,238.71L748.67,238.71Z" fill="#4f5e55"/>
<path d="M755.69,239.14L762.86,239.14L762.49,238.71L755.58,238.71Z" fill="#516057"/>
<path d="M762.86,239.14L770.03,239.14L769.39,238.71L762.49,238.71Z" fill="#4f5e55"/>
<path d="M770.03,239.14L777.2,239.14L776.3,238.71L769.39,238.71Z" fill="#516057"/>
<path d="M777.2,239.14L784.37,239.14L783.2,238.71L776.3,238.71Z" fill="#4f5e55"/>
<path d="M784.37,239.14L791.54,239.14L790.11,238.71L783.2,238.71Z" fill="#516057"/>
<path d="M791.54,239.14L798.71,239.14L797.02,238.71L790.11,238.71Z" fill="#4f5e55"/>
<path d="M798.71,239.14L805.88,239.14L803.92,238.71L797.02,238.71Z" fill="#516057"/>
<path d="M805.88,239.14L813.06,239.14L810.83,238.71L803.92,238.71Z" fill="#4f5e55"/>
<path d="M813.06,239.14L820.23,239.14L817.73,238.71L810.83,238.71Z" fill="#516057"/>
<path d="M820.23,239.14L827.4,239.14L824.64,238.71L817.73,238.71Z" fill="#4f5e55"/>
<path d="M673.77,239.61L681.23,239.61L683.98,239.14L676.8,239.14Z" fill="#516057"/>
<path d="M681.23,239.61L688.68,239.61L691.15,239.14L683.98,239.14Z" fill="#4f5e55"/>
<path d="M688.68,239.61L696.14,239.61L698.32,239.14L691.15,239.14Z" fill="#516057"/>
<path d="M696.14,239.61L703.6,239.61L705.49,239.14L698.32,239.14Z" fill="#4f5e55"/>
<path d="M703.6,239.61L711.06,239.61L712.66,239.14L705.49,239.14Z" fill="#516057"/>
<path d="M711.06,239.61L718.51,239.61L719.83,239.14L712.66,239.14Z" fill="#4f5e55"/>
<path d="M718.51,239.61L725.97,239.61L727,239.14L719.83,239.14Z" fill="#516057"/>
<path d="M725.97,239.61L733.43,239.61L734.17,239.14L727,239.14Z" fill="#4f5e55"/>
<path d="M733.43,239.61L740.89,239.61L741.34,239.14L734.17,239.14Z" fill="#516057"/>
<path d="M740.89,239.61L748.34,239.61L748.52,239.14L741.34,239.14Z" fill="#4f5e55"/>
<path d="M748.34,239.61L755.8,239.61L755.69,239.14L748.52,239.14Z" fill="#516057"/>
<path d="M755.8,239.61L763.26,239.61L762.86,239.14L755.69,239.14Z" fill="#4f5e55"/>
<path d="M763.26,239.61L770.72,239.61L770.03,239.14L762.86,239.14Z" fill="#516057"/>
<path d="M770.72,239.61L778.18,239.61L777.2,239.14L770.03,239.14Z" fill="#4f5e55"/>
<path d="M778.18,239.61L785.63,239.61L784.37,239.14L777.2,239.14Z" fill="#516057"/>
<path d="M785.63,239.61L793.09,239.61L791.54,239.14L784.37,239.14Z" fill="#4f5e55"/>
<path d="M793.09,239.61L800.55,239.61L798.71,239.14L791.54,239.14Z" fill="#516057"/>
<path d="M800.55,239.61L808.01,239.61L805.88,239.14L798.71,239.14Z" fill="#4f5e55"/>
<path d="M808.01,239.61L815.46,239.61L813.06,239.14L805.88,239.14Z" fill="#516057"/>
<path d="M815.46,239.61L822.92,239.61L820.23,239.14L813.06,239.14Z" fill="#4f5e55"/>
<path d="M822.92,239.61L830.38,239.61L827.4,239.14L820.23,239.14Z" fill="#516057"/>
<path d="M678.25,240.11L686.02,240.11L688.68,239.61L681.23,239.61Z" fill="#526158"/>
<path d="M686.02,240.11L693.78,240.11L696.14,239.61L688.68,239.61Z" fill="#4e5d54"/>
<path d="M693.78,240.11L701.55,240.11L703.6,239.61L696.14,239.61Z" fill="#526158"/>
<path d="M701.55,240.11L709.32,240.11L711.06,239.61L703.6,239.61Z" fill="#4e5d54"/>
<path d="M709.32,240.11L717.09,240.11L718.51,239.61L711.06,239.61Z" fill="#526158"/>
<path d="M717.09,240.11L724.86,240.11L725.97,239.61L718.51,239.61Z" fill="#4e5d54"/>
<path d="M724.86,240.11L732.62,240.11L733.43,239.61L725.97,239.61Z" fill="#526158"/>
<path d="M732.62,240.11L740.39,240.11L740.89,239.61L733.43,239.61Z" fill="#4e5d54"/>
<path d="M740.39,240.11L748.16,240.11L748.34,239.61L740.89,239.61Z" fill="#526158"/>
<path d="M748.16,240.11L755.93,240.11L755.8,239.61L748.34,239.61Z" fill="#4e5d54"/>
<path d="M755.93,240.11L763.7,240.11L763.26,239.61L755.8,239.61Z" fill="#526158"/>
<path d="M763.7,240.11L771.46,240.11L770.72,239.61L763.26,239.61Z" fill="#4e5d54"/>
<path d="M771.46,240.11L779.23,240.11L778.18,239.61L770.72,239.61Z" fill="#526158"/>
<path d="M779.23,240.11L787,240.11L785.63,239.61L778.18,239.61Z" fill="#4e5d54"/>
<path d="M787,240.11L794.77,240.11L793.09,239.61L785.63,239.61Z" fill="#526158"/>
<path d="M794.77,240.11L802.54,240.11L800.55,239.61L793.09,239.61Z" fill="#4e5d54"/>
<path d="M802.54,240.11L810.3,240.11L808.01,239.61L800.55,239.61Z" fill="#526158"/>
<path d="M810.3,240.11L818.07,240.11L815.46,239.61L808.01,239.61Z" fill="#4e5d54"/>
<path d="M818.07,240.11L825.84,240.11L822.92,239.61L815.46,239.61Z" fill="#526158"/>
<path d="M675.01,240.66L683.12,240.66L686.02,240.11L678.25,240.11Z" fill="#4d5b53"/>
<path d="M683.12,240.66L691.22,240.66L693.78,240.11L686.02,240.11Z" fill="#546359"/>
<path d="M691.22,240.66L699.33,240.66L701.55,240.11L693.78,240.11Z" fill="#4d5b53"/>
<path d="M699.33,240.66L707.43,240.66L709.32,240.11L701.55,240.11Z" fill="#546359"/>
<path d="M707.43,240.66L715.54,240.66L717.09,240.11L709.32,240.11Z" fill="#4d5b53"/>
<path d="M715.54,240.66L723.64,240.66L724.86,240.11L717.09,240.11Z" fill="#546359"/>
<path d="M723.64,240.66L731.75,240.66L732.62,240.11L724.86,240.11Z" fill="#4d5b53"/>
<path d="M731.75,240.66L739.85,240.66L740.39,240.11L732.62,240.11Z" fill="#546359"/>
<path d="M739.85,240.66L747.96,240.66L748.16,240.11L740.39,240.11Z" fill="#4d5b53"/>
<path d="M747.96,240.66L756.06,240.66L755.93,240.11L748.16,240.11Z" fill="#546359"/>
<path d="M756.06,240.66L764.17,240.66L763.7,240.11L755.93,240.11Z" fill="#4d5b53"/>
<path d="M764.17,240.66L772.27,240.66L771.46,240.11L763.7,240.11Z" fill="#546359"/>
<path d="M772.27,240.66L780.38,240.66L779.23,240.11L771.46,240.11Z" fill="#4d5b53"/>
<path d="M780.38,240.66L788.48,240.66L787,240.11L779.23,240.11Z" fill="#546359"/>
<path d="M788.48,240.66L796.59,240.66L794.77,240.11L787,240.11Z" fill="#4d5b53"/>
<path d="M796.59,240.66L804.69,240.66L802.54,240.11L794.77,240.11Z" fill="#546359"/>
<path d="M804.69,240.66L812.8,240.66L810.3,240.11L802.54,240.11Z" fill="#4d5b53"/>
<path d="M812.8,240.66L820.91,240.66L818.07,240.11L810.3,240.11Z" fill="#546359"/>
<path d="M820.91,240.66L829.01,240.66L825.84,240.11L818.07,240.11Z" fill="#4d5b53"/>
<path d="M671.48,241.26L679.95,241.26L683.12,240.66L675.01,240.66Z" fill="#56655b"/>
<path d="M679.95,241.26L688.43,241.26L691.22,240.66L683.12,240.66Z" fill="#4b5a51"/>
<path d="M688.43,241.26L696.9,241.26L699.33,240.66L691.22,240.66Z" fill="#56655b"/>
<path d="M696.9,241.26L705.37,241.26L707.43,240.66L699.33,240.66Z" fill="#4b5a51"/>
<path d="M705.37,241.26L713.85,241.26L715.54,240.66L707.43,240.66Z" fill="#56655b"/>
<path d="M713.85,241.26L722.32,241.26L723.64,240.66L715.54,240.66Z" fill="#4b5a51"/>
<path d="M722.32,241.26L730.79,241.26L731.75,240.66L723.64,240.66Z" fill="#56655b"/>
<path d="M730.79,241.26L739.26,241.26L739.85,240.66L731.75,240.66Z" fill="#4b5a51"/>
<path d="M739.26,241.26L747.74,241.26L747.96,240.66L739.85,240.66Z" fill="#56655b"/>
<path d="M747.74,241.26L756.21,241.26L756.06,240.66L747.96,240.66Z" fill="#4b5a51"/>
<path d="M756.21,241.26L764.68,241.26L764.17,240.66L756.06,240.66Z" fill="#56655b"/>
<path d="M764.68,241.26L773.16,241.26L772.27,240.66L764.17,240.66Z" fill="#4b5a51"/>
<path d="M773.16,241.26L781.63,241.26L780.38,240.66L772.27,240.66Z" fill="#56655b"/>
<path d="M781.63,241.26L790.1,241.26L788.48,240.66L780.38,240.66Z" fill="#4b5a51"/>
<path d="M790.1,241.26L798.58,241.26L796.59,240.66L788.48,240.66Z" fill="#56655b"/>
<path d="M798.58,241.26L807.05,241.26L804.69,240.66L796.59,240.66Z" fill="#4b5a51"/>
<path d="M807.05,241.26L815.52,241.26L812.8,240.66L804.69,240.66Z" fill="#56655b"/>
<path d="M815.52,241.26L824,241.26L820.91,240.66L812.8,240.66Z" fill="#4b5a51"/>
<path d="M824,241.26L832.47,241.26L829.01,240.66L820.91,240.66Z" fill="#56655b"/>
<path d="M676.49,241.91L685.36,241.91L688.43,241.26L679.95,241.26Z" fill="#58685e"/>
<path d="M685.36,241.91L694.24,241.91L696.9,241.26L688.43,241.26Z" fill="#49574f"/>
<path d="M694.24,241.91L703.12,241.91L705.37,241.26L696.9,241.26Z" fill="#58685e"/>
<path d="M703.12,241.91L711.99,241.91L713.85,241.26L705.37,241.26Z" fill="#49574f"/>
<path d="M711.99,241.91L720.87,241.91L722.32,241.26L713.85,241.26Z" fill="#58685e"/>
<path d="M720.87,241.91L729.75,241.91L730.79,241.26L722.32,241.26Z" fill="#49574f"/>
<path d="M729.75,241.91L738.62,241.91L739.26,241.26L730.79,241.26Z" fill="#58685e"/>
<path d="M738.62,241.91L747.5,241.91L747.74,241.26L739.26,241.26Z" fill="#49574f"/>
<path d="M747.5,241.91L756.37,241.91L756.21,241.26L747.74,241.26Z" fill="#58685e"/>
<path d="M756.37,241.91L765.25,241.91L764.68,241.26L756.21,241.26Z" fill="#49574f"/>
<path d="M765.25,241.91L774.13,241.91L773.16,241.26L764.68,241.26Z" fill="#58685e"/>
<path d="M774.13,241.91L783,241.91L781.63,241.26L773.16,241.26Z" fill="#49574f"/>
<path d="M783,241.91L791.88,241.91L790.1,241.26L781.63,241.26Z" fill="#58685e"/>
<path d="M791.88,241.91L800.75,241.91L798.58,241.26L790.1,241.26Z" fill="#49574f"/>
<path d="M800.75,241.91L809.63,241.91L807.05,241.26L798.58,241.26Z" fill="#58685e"/>
<path d="M809.63,241.91L818.51,241.91L815.52,241.26L807.05,241.26Z" fill="#49574f"/>
<path d="M818.51,241.91L827.38,241.91L824,241.26L815.52,241.26Z" fill="#58685e"/>
<path d="M672.68,242.63L682,242.63L685.36,241.91L676.49,241.91Z" fill="#46534b"/>
<path d="M682,242.63L691.32,242.63L694.24,241.91L685.36,241.91Z" fill="#5c6c61"/>
<path d="M691.32,242.63L700.64,242.63L703.12,241.91L694.24,241.91Z" fill="#46534b"/>
<path d="M700.64,242.63L709.96,242.63L711.99,241.91L703.12,241.91Z" fill="#5c6c61"/>
<path d="M709.96,242.63L719.28,242.63L720.87,241.91L711.99,241.91Z" fill="#46534b"/>
<path d="M719.28,242.63L728.59,242.63L729.75,241.91L720.87,241.91Z" fill="#5c6c61"/>
<path d="M728.59,242.63L737.91,242.63L738.62,241.91L729.75,241.91Z" fill="#46534b"/>
<path d="M737.91,242.63L747.23,242.63L747.5,241.91L738.62,241.91Z" fill="#5c6c61"/>
<path d="M747.23,242.63L756.55,242.63L756.37,241.91L747.5,241.91Z" fill="#46534b"/>
<path d="M756.55,242.63L765.87,242.63L765.25,241.91L756.37,241.91Z" fill="#5c6c61"/>
<path d="M765.87,242.63L775.19,242.63L774.13,241.91L765.25,241.91Z" fill="#46534b"/>
<path d="M775.19,242.63L784.51,242.63L783,241.91L774.13,241.91Z" fill="#5c6c61"/>
<path d="M784.51,242.63L793.83,242.63L791.88,241.91L783,241.91Z" fill="#46534b"/>
<path d="M793.83,242.63L803.15,242.63L800.75,241.91L791.88,241.91Z" fill="#5c6c61"/>
<path d="M803.15,242.63L812.47,242.63L809.63,241.91L800.75,241.91Z" fill="#46534b"/>
<path d="M812.47,242.63L821.79,242.63L818.51,241.91L809.63,241.91Z" fill="#5c6c61"/>
<path d="M821.79,242.63L831.11,242.63L827.38,241.91L818.51,241.91Z" fill="#46534b"/>
<path d="M668.47,243.42L678.28,243.42L682,242.63L672.68,242.63Z" fill="#607166"/>
<path d="M678.28,243.42L688.09,243.42L691.32,242.63L682,242.63Z" fill="#424f47"/>
<path d="M688.09,243.42L697.9,243.42L700.64,242.63L691.32,242.63Z" fill="#607166"/>
<path d="M697.9,243.42L707.7,243.42L709.96,242.63L700.64,242.63Z" fill="#424f47"/>
<path d="M707.7,243.42L717.51,243.42L719.28,242.63L709.96,242.63Z" fill="#607166"/>
<path d="M717.51,243.42L727.32,243.42L728.59,242.63L719.28,242.63Z" fill="#424f47"/>
<path d="M727.32,243.42L737.13,243.42L737.91,242.63L728.59,242.63Z" fill="#607166"/>
<path d="M737.13,243.42L746.94,243.42L747.23,242.63L737.91,242.63Z" fill="#424f47"/>
<path d="M746.94,243.42L756.75,243.42L756.55,242.63L747.23,242.63Z" fill="#607166"/>
<path d="M756.75,243.42L766.56,243.42L765.87,242.63L756.55,242.63Z" fill="#424f47"/>
<path d="M766.56,243.42L776.37,243.42L775.19,242.63L765.87,242.63Z" fill="#607166"/>
<path d="M776.37,243.42L786.18,243.42L784.51,242.63L775.19,242.63Z" fill="#424f47"/>
<path d="M786.18,243.42L795.98,243.42L793.83,242.63L784.51,242.63Z" fill="#607166"/>
<path d="M795.98,243.42L805.79,243.42L803.15,242.63L793.83,242.63Z" fill="#424f47"/>
<path d="M805.79,243.42L815.6,243.42L812.47,242.63L803.15,242.63Z" fill="#607166"/>
<path d="M815.6,243.42L825.41,243.42L821.79,242.63L812.47,242.63Z" fill="#424f47"/>
<path d="M825.41,243.42L835.22,243.42L831.11,242.63L821.79,242.63Z" fill="#607166"/>
<path d="M674.14,244.31L684.5,244.31L688.09,243.42L678.28,243.42Z" fill="#66776b"/>
<path d="M684.5,244.31L694.85,244.31L697.9,243.42L688.09,243.42Z" fill="#3e4942"/>
<path d="M694.85,244.31L705.2,244.31L707.7,243.42L697.9,243.42Z" fill="#66776b"/>
<path d="M705.2,244.31L715.56,244.31L717.51,243.42L707.7,243.42Z" fill="#3e4942"/>
<path d="M715.56,244.31L725.91,244.31L727.32,243.42L717.51,243.42Z" fill="#66776b"/>
<path d="M725.91,244.31L736.26,244.31L737.13,243.42L727.32,243.42Z" fill="#3e4942"/>
<path d="M736.26,244.31L746.62,244.31L746.94,243.42L737.13,243.42Z" fill="#66776b"/>
<path d="M746.62,244.31L756.97,244.31L756.75,243.42L746.94,243.42Z" fill="#3e4942"/>
<path d="M756.97,244.31L767.32,244.31L766.56,243.42L756.75,243.42Z" fill="#66776b"/>
<path d="M767.32,244.31L777.67,244.31L776.37,243.42L766.56,243.42Z" fill="#3e4942"/>
<path d="M777.67,244.31L788.03,244.31L786.18,243.42L776.37,243.42Z" fill="#66776b"/>
<path d="M788.03,244.31L798.38,244.31L795.98,243.42L786.18,243.42Z" fill="#3e4942"/>
<path d="M798.38,244.31L808.73,244.31L805.79,243.42L795.98,243.42Z" fill="#66776b"/>
<path d="M808.73,244.31L819.09,244.31L815.6,243.42L805.79,243.42Z" fill="#3e4942"/>
<path d="M819.09,244.31L829.44,244.31L825.41,243.42L815.6,243.42Z" fill="#66776b"/>
<path d="M669.53,245.29L680.49,245.29L684.5,244.31L674.14,244.31Z" fill="#38423c"/>
<path d="M680.49,245.29L691.45,245.29L694.85,244.31L684.5,244.31Z" fill="#6d7f72"/>
<path d="M691.45,245.29L702.41,245.29L705.2,244.31L694.85,244.31Z" fill="#38423c"/>
<path d="M702.41,245.29L713.37,245.29L715.56,244.31L705.2,244.31Z" fill="#6d7f72"/>
<path d="M713.37,245.29L724.33,245.29L725.91,244.31L715.56,244.31Z" fill="#38423c"/>
<path d="M724.33,245.29L735.29,245.29L736.26,244.31L725.91,244.31Z" fill="#6d7f72"/>
<path d="M735.29,245.29L746.25,245.29L746.62,244.31L736.26,244.31Z" fill="#38423c"/>
<path d="M746.25,245.29L757.21,245.29L756.97,244.31L746.62,244.31Z" fill="#6d7f72"/>
<path d="M757.21,245.29L768.17,245.29L767.32,244.31L756.97,244.31Z" fill="#38423c"/>
<path d="M768.17,245.29L779.13,245.29L777.67,244.31L767.32,244.31Z" fill="#6d7f72"/>
<path d="M779.13,245.29L790.1,245.29L788.03,244.31L777.67,244.31Z" fill="#38423c"/>
<path d="M790.1,245.29L801.06,245.29L798.38,244.31L788.03,244.31Z" fill="#6d7f72"/>
<path d="M801.06,245.29L812.02,245.29L808.73,244.31L798.38,244.31Z" fill="#38423c"/>
<path d="M812.02,245.29L822.98,245.29L819.09,244.31L808.73,244.31Z" fill="#6d7f72"/>
<path d="M822.98,245.29L833.94,245.29L829.44,244.31L819.09,244.31Z" fill="#38423c"/>
<path d="M675.98,246.4L687.62,246.4L691.45,245.29L680.49,245.29Z" fill="#323b35"/>
<path d="M687.62,246.4L699.27,246.4L702.41,245.29L691.45,245.29Z" fill="#748779"/>
<path d="M699.27,246.4L710.91,246.4L713.37,245.29L702.41,245.29Z" fill="#323b35"/>
<path d="M710.91,246.4L722.55,246.4L724.33,245.29L713.37,245.29Z" fill="#748779"/>
<path d="M722.55,246.4L734.2,246.4L735.29,245.29L724.33,245.29Z" fill="#323b35"/>
<path d="M734.2,246.4L745.84,246.4L746.25,245.29L735.29,245.29Z" fill="#748779"/>
<path d="M745.84,246.4L757.49,246.4L757.21,245.29L746.25,245.29Z" fill="#323b35"/>
<path d="M757.49,246.4L769.13,246.4L768.17,245.29L757.21,245.29Z" fill="#748779"/>
<path d="M769.13,246.4L780.78,246.4L779.13,245.29L768.17,245.29Z" fill="#323b35"/>
<path d="M780.78,246.4L792.42,246.4L790.1,245.29L779.13,245.29Z" fill="#748779"/>
<path d="M792.42,246.4L804.07,246.4L801.06,245.29L790.1,245.29Z" fill="#323b35"/>
<path d="M804.07,246.4L815.71,246.4L812.02,245.29L801.06,245.29Z" fill="#748779"/>
<path d="M815.71,246.4L827.36,246.4L822.98,245.29L812.02,245.29Z" fill="#323b35"/>
<path d="M670.86,247.66L683.28,247.66L687.62,246.4L675.98,246.4Z" fill="#7d9081"/>
<path d="M683.28,247.66L695.7,247.66L699.27,246.4L687.62,246.4Z" fill="#2b332e"/>
<path d="M695.7,247.66L708.12,247.66L710.91,246.4L699.27,246.4Z" fill="#7d9081"/>
<path d="M708.12,247.66L720.54,247.66L722.55,246.4L710.91,246.4Z" fill="#2b332e"/>
<path d="M720.54,247.66L732.96,247.66L734.2,246.4L722.55,246.4Z" fill="#7d9081"/>
<path d="M732.96,247.66L745.38,247.66L745.84,246.4L734.2,246.4Z" fill="#2b332e"/>
<path d="M745.38,247.66L757.8,247.66L757.49,246.4L745.84,246.4Z" fill="#7d9081"/>
<path d="M757.8,247.66L770.22,247.66L769.13,246.4L757.49,246.4Z" fill="#2b332e"/>
<path d="M770.22,247.66L782.64,247.66L780.78,246.4L769.13,246.4Z" fill="#7d9081"/>
<path d="M782.64,247.66L795.06,247.66L792.42,246.4L780.78,246.4Z" fill="#2b332e"/>
<path d="M795.06,247.66L807.48,247.66L804.07,246.4L792.42,246.4Z" fill="#7d9081"/>
<path d="M807.48,247.66L819.9,247.66L815.71,246.4L804.07,246.4Z" fill="#2b332e"/>
<path d="M819.9,247.66L832.32,247.66L827.36,246.4L815.71,246.4Z" fill="#7d9081"/>
<path d="M665.02,249.1L678.33,249.1L683.28,247.66L670.86,247.66Z" fill="#242a26"/>
<path d="M678.33,249.1L691.63,249.1L695.7,247.66L683.28,247.66Z" fill="#859a89"/>
<path d="M691.63,249.1L704.94,249.1L708.12,247.66L695.7,247.66Z" fill="#242a26"/>
<path d="M704.94,249.1L718.24,249.1L720.54,247.66L708.12,247.66Z" fill="#859a89"/>
<path d="M718.24,249.1L731.55,249.1L732.96,247.66L720.54,247.66Z" fill="#242a26"/>
<path d="M731.55,249.1L744.85,249.1L745.38,247.66L732.96,247.66Z" fill="#859a89"/>
<path d="M744.85,249.1L758.16,249.1L757.8,247.66L745.38,247.66Z" fill="#242a26"/>
<path d="M758.16,249.1L771.46,249.1L770.22,247.66L757.8,247.66Z" fill="#859a89"/>
<path d="M771.46,249.1L784.77,249.1L782.64,247.66L770.22,247.66Z" fill="#242a26"/>
<path d="M784.77,249.1L798.07,249.1L795.06,247.66L782.64,247.66Z" fill="#859a89"/>
<path d="M798.07,249.1L811.37,249.1L807.48,247.66L795.06,247.66Z" fill="#242a26"/>
<path d="M811.37,249.1L824.68,249.1L819.9,247.66L807.48,247.66Z" fill="#859a89"/>
<path d="M824.68,249.1L837.98,249.1L832.32,247.66L819.9,247.66Z" fill="#242a26"/>
<path d="M672.61,250.76L686.94,250.76L691.63,249.1L678.33,249.1Z" fill="#1c221f"/>
<path d="M686.94,250.76L701.27,250.76L704.94,249.1L691.63,249.1Z" fill="#8ea391"/>
<path d="M701.27,250.76L715.59,250.76L718.24,249.1L704.94,249.1Z" fill="#1c221f"/>
<path d="M715.59,250.76L729.92,250.76L731.55,249.1L718.24,249.1Z" fill="#8ea391"/>
<path d="M729.92,250.76L744.24,250.76L744.85,249.1L731.55,249.1Z" fill="#1c221f"/>
<path d="M744.24,250.76L758.57,250.76L758.16,249.1L744.85,249.1Z" fill="#8ea391"/>
<path d="M758.57,250.76L772.89,250.76L771.46,249.1L758.16,249.1Z" fill="#1c221f"/>
<path d="M772.89,250.76L787.22,250.76L784.77,249.1L771.46,249.1Z" fill="#8ea391"/>
<path d="M787.22,250.76L801.54,250.76L798.07,249.1L784.77,249.1Z" fill="#1c221f"/>
<path d="M801.54,250.76L815.87,250.76L811.37,249.1L798.07,249.1Z" fill="#8ea391"/>
<path d="M815.87,250.76L830.2,250.76L824.68,249.1L811.37,249.1Z" fill="#1c221f"/>
<path d="M665.95,252.69L681.46,252.69L686.94,250.76L672.61,250.76Z" fill="#96ac99"/>
<path d="M681.46,252.69L696.98,252.69L701.27,250.76L686.94,250.76Z" fill="#161a17"/>
<path d="M696.98,252.69L712.5,252.69L715.59,250.76L701.27,250.76Z" fill="#96ac99"/>
<path d="M712.5,252.69L728.01,252.69L729.92,250.76L715.59,250.76Z" fill="#161a17"/>
<path d="M728.01,252.69L743.53,252.69L744.24,250.76L729.92,250.76Z" fill="#96ac99"/>
<path d="M743.53,252.69L759.05,252.69L758.57,250.76L744.24,250.76Z" fill="#161a17"/>
<path d="M759.05,252.69L774.56,252.69L772.89,250.76L758.57,250.76Z" fill="#96ac99"/>
<path d="M774.56,252.69L790.08,252.69L787.22,250.76L772.89,250.76Z" fill="#161a17"/>
<path d="M790.08,252.69L805.6,252.69L801.54,250.76L787.22,250.76Z" fill="#96ac99"/>
<path d="M805.6,252.69L821.11,252.69L815.87,250.76L801.54,250.76Z" fill="#161a17"/>
<path d="M821.11,252.69L836.63,252.69L830.2,250.76L815.87,250.76Z" fill="#96ac99"/>
<path d="M675,254.97L691.92,254.97L696.98,252.69L681.46,252.69Z" fill="#9db4a0"/>
<path d="M691.92,254.97L708.84,254.97L712.5,252.69L696.98,252.69Z" fill="#101211"/>
<path d="M708.84,254.97L725.77,254.97L728.01,252.69L712.5,252.69Z" fill="#9db4a0"/>
<path d="M725.77,254.97L742.69,254.97L743.53,252.69L728.01,252.69Z" fill="#101211"/>
<path d="M742.69,254.97L759.61,254.97L759.05,252.69L743.53,252.69Z" fill="#9db4a0"/>
<path d="M759.61,254.97L776.54,254.97L774.56,252.69L759.05,252.69Z" fill="#101211"/>
<path d="M776.54,254.97L793.46,254.97L790.08,252.69L774.56,252.69Z" fill="#9db4a0"/>
<path d="M793.46,254.97L810.38,254.97L805.6,252.69L790.08,252.69Z" fill="#101211"/>
<path d="M810.38,254.97L827.31,254.97L821.11,252.69L805.6,252.69Z" fill="#9db4a0"/>
<path d="M827.31,254.97L844.23,254.97L836.63,252.69L821.11,252.69Z" fill="#101211"/>
<path d="M667.24,257.71L685.85,257.71L691.92,254.97L675,254.97Z" fill="#0a0c0b"/>
<path d="M685.85,257.71L704.46,257.71L708.84,254.97L691.92,254.97Z" fill="#a4bba6"/>
<path d="M704.46,257.71L723.07,257.71L725.77,254.97L708.84,254.97Z" fill="#0a0c0b"/>
<path d="M723.07,257.71L741.68,257.71L742.69,254.97L725.77,254.97Z" fill="#a4bba6"/>
<path d="M741.68,257.71L760.29,257.71L759.61,254.97L742.69,254.97Z" fill="#0a0c0b"/>
<path d="M760.29,257.71L778.9,257.71L776.54,254.97L759.61,254.97Z" fill="#a4bba6"/>
<path d="M778.9,257.71L797.51,257.71L793.46,254.97L776.54,254.97Z" fill="#0a0c0b"/>
<path d="M797.51,257.71L816.12,257.71L810.38,254.97L793.46,254.97Z" fill="#a4bba6"/>
<path d="M816.12,257.71L834.73,257.71L827.31,254.97L810.38,254.97Z" fill="#0a0c0b"/>
<path d="M657.77,261.06L678.44,261.06L685.85,257.71L667.24,257.71Z" fill="#a9c1ab"/>
<path d="M678.44,261.06L699.11,261.06L704.46,257.71L685.85,257.71Z" fill="#060707"/>
<path d="M699.11,261.06L719.78,261.06L723.07,257.71L704.46,257.71Z" fill="#a9c1ab"/>
<path d="M719.78,261.06L740.45,261.06L741.68,257.71L723.07,257.71Z" fill="#060707"/>
<path d="M740.45,261.06L761.12,261.06L760.29,257.71L741.68,257.71Z" fill="#a9c1ab"/>
<path d="M761.12,261.06L781.79,261.06L778.9,257.71L760.29,257.71Z" fill="#060707"/>
<path d="M781.79,261.06L802.46,261.06L797.51,257.71L778.9,257.71Z" fill="#a9c1ab"/>
<path d="M802.46,261.06L823.14,261.06L816.12,257.71L797.51,257.71Z" fill="#060707"/>
<path d="M823.14,261.06L843.81,261.06L834.73,257.71L816.12,257.71Z" fill="#a9c1ab"/>
<path d="M669.18,265.24L692.42,265.24L699.11,261.06L678.44,261.06Z" fill="#acc5ae"/>
<path d="M692.42,265.24L715.67,265.24L719.78,261.06L699.11,261.06Z" fill="#030403"/>
<path d="M715.67,265.24L738.91,265.24L740.45,261.06L719.78,261.06Z" fill="#acc5ae"/>
<path d="M738.91,265.24L762.16,265.24L761.12,261.06L740.45,261.06Z" fill="#030403"/>
<path d="M762.16,265.24L785.4,265.24L781.79,261.06L761.12,261.06Z" fill="#acc5ae"/>
<path d="M785.4,265.24L808.65,265.24L802.46,261.06L781.79,261.06Z" fill="#030403"/>
<path d="M808.65,265.24L831.89,265.24L823.14,261.06L802.46,261.06Z" fill="#acc5ae"/>
<path d="M657.28,270.6L683.83,270.6L692.42,265.24L669.18,265.24Z" fill="#010101"/>
<path d="M683.83,270.6L710.39,270.6L715.67,265.24L692.42,265.24Z" fill="#afc7b1"/>
<path d="M710.39,270.6L736.94,270.6L738.91,265.24L715.67,265.24Z" fill="#010101"/>
<path d="M736.94,270.6L763.49,270.6L762.16,265.24L738.91,265.24Z" fill="#afc7b1"/>
<path d="M763.49,270.6L790.04,270.6L785.4,265.24L762.16,265.24Z" fill="#010101"/>
<path d="M790.04,270.6L816.59,270.6L808.65,265.24L785.4,265.24Z" fill="#afc7b1"/>
<path d="M816.59,270.6L843.14,270.6L831.89,265.24L808.65,265.24Z" fill="#010101"/>
<path d="M641.44,277.75L672.4,277.75L683.83,270.6L657.28,270.6Z" fill="#b0c9b2"/>
<path d="M672.4,277.75L703.35,277.75L710.39,270.6L683.83,270.6Z" fill="#000000"/>
<path d="M703.35,277.75L734.31,277.75L736.94,270.6L710.39,270.6Z" fill="#b0c9b2"/>
<path d="M734.31,277.75L765.26,277.75L763.49,270.6L736.94,270.6Z" fill="#000000"/>
<path d="M765.26,277.75L796.22,277.75L790.04,270.6L763.49,270.6Z" fill="#b0c9b2"/>
<path d="M796.22,277.75L827.17,277.75L816.59,270.6L790.04,270.6Z" fill="#000000"/>
<path d="M827.17,277.75L858.13,277.75L843.14,270.6L816.59,270.6Z" fill="#b0c9b2"/>
<path d="M656.41,287.74L693.52,287.74L703.35,277.75L672.4,277.75Z" fill="#b0c9b2"/>
<path d="M693.52,287.74L730.63,287.74L734.31,277.75L703.35,277.75Z" fill="#000000"/>
<path d="M730.63,287.74L767.74,287.74L765.26,277.75L734.31,277.75Z" fill="#b0c9b2"/>
<path d="M767.74,287.74L804.85,287.74L796.22,277.75L765.26,277.75Z" fill="#000000"/>
<path d="M804.85,287.74L841.96,287.74L827.17,277.75L796.22,277.75Z" fill="#b0c9b2"/>
<path d="M632.5,302.69L678.82,302.69L693.52,287.74L656.41,287.74Z" fill="#000000"/>
<path d="M678.82,302.69L725.13,302.69L730.63,287.74L693.52,287.74Z" fill="#b0c9b2"/>
<path d="M725.13,302.69L771.45,302.69L767.74,287.74L730.63,287.74Z" fill="#000000"/>
<path d="M771.45,302.69L817.76,302.69L804.85,287.74L767.74,287.74Z" fill="#b0c9b2"/>
<path d="M817.76,302.69L864.08,302.69L841.96,287.74L804.85,287.74Z" fill="#000000"/>
<path d="M654.4,327.5L716,327.5L725.13,302.69L678.82,302.69Z" fill="#000000"/>
<path d="M716,327.5L777.6,327.5L771.45,302.69L725.13,302.69Z" fill="#b0c9b2"/>
<path d="M777.6,327.5L839.2,327.5L817.76,302.69L771.45,302.69Z" fill="#000000"/>
<path d="M839.2,327.5L900.8,327.5L864.08,302.69L817.76,302.69Z" fill="#b0c9b2"/>
</g>
<path d="M594.3,305.9 L596.3,300 Q601,301.5 609,305.9 Z" fill="url(#refl)" opacity="0.85"/>
<path d="M719.8,304.4 L723.6,289.5 L728,289.5 L725,304.4 Z" fill="url(#refl)" opacity="0.9"/>
<path d="M763.5,287 L769,300 L771,304 L766,304 Z" fill="#8a5a5e" opacity="0.5"/>
<rect x="680.9" y="156.8" width="1.6" height="149" fill="#eeeeee"/>
<path d="M596.5,260 L595.5,279 L607,275.5" fill="none" stroke="#8a545b" stroke-width="5.1" stroke-linecap="round" stroke-linejoin="round"/><path d="M596.5,260 L595.5,279 L607,275.5" fill="none" stroke="#c47f87" stroke-width="3.9999999999999996" stroke-linecap="round" stroke-linejoin="round"/><path d="M596.5,259.17 L595.5,278.17 L607,274.67" fill="none" stroke="#e3a9ae" stroke-width="1.38" stroke-linecap="round" stroke-linejoin="round" stroke-opacity="0.7"/>
<path d="M621.5,256.5 L635,275" fill="none" stroke="#8a545b" stroke-width="5.1" stroke-linecap="round" stroke-linejoin="round"/><path d="M621.5,256.5 L635,275" fill="none" stroke="#c47f87" stroke-width="3.9999999999999996" stroke-linecap="round" stroke-linejoin="round"/><path d="M621.5,255.67 L635,274.17" fill="none" stroke="#e3a9ae" stroke-width="1.38" stroke-linecap="round" stroke-linejoin="round" stroke-opacity="0.7"/>
<path d="M580.5,248.5 L596.5,258.5" fill="none" stroke="#85593a" stroke-width="4.7" stroke-linecap="round" stroke-linejoin="round"/><path d="M580.5,248.5 L596.5,258.5" fill="none" stroke="#cc9766" stroke-width="3.6" stroke-linecap="round" stroke-linejoin="round"/><path d="M580.5,247.74 L596.5,257.74" fill="none" stroke="#ebbd8c" stroke-width="1.26" stroke-linecap="round" stroke-linejoin="round" stroke-opacity="0.7"/>
<path d="M638,252.5 L621.5,255.5" fill="none" stroke="#85593a" stroke-width="4.7" stroke-linecap="round" stroke-linejoin="round"/><path d="M638,252.5 L621.5,255.5" fill="none" stroke="#cc9766" stroke-width="3.6" stroke-linecap="round" stroke-linejoin="round"/><path d="M638,251.74 L621.5,254.74" fill="none" stroke="#ebbd8c" stroke-width="1.26" stroke-linecap="round" stroke-linejoin="round" stroke-opacity="0.7"/>
<path d="M580.5,248.5 L638,251.5 L651,240.5" fill="none" stroke="#85593a" stroke-width="5.0" stroke-linecap="round" stroke-linejoin="round"/><path d="M580.5,248.5 L638,251.5 L651,240.5" fill="none" stroke="#cc9766" stroke-width="3.9" stroke-linecap="round" stroke-linejoin="round"/><path d="M580.5,247.69 L638,250.69 L651,239.69" fill="none" stroke="#ebbd8c" stroke-width="1.35" stroke-linecap="round" stroke-linejoin="round" stroke-opacity="0.7"/>
<path d="M738,260.3 L722,271.7 L725.3,284.3" fill="none" stroke="#8a545b" stroke-width="5.1" stroke-linecap="round" stroke-linejoin="round"/><path d="M738,260.3 L722,271.7 L725.3,284.3" fill="none" stroke="#c47f87" stroke-width="3.9999999999999996" stroke-linecap="round" stroke-linejoin="round"/><path d="M738,259.47 L722,270.87 L725.3,283.47" fill="none" stroke="#e3a9ae" stroke-width="1.38" stroke-linecap="round" stroke-linejoin="round" stroke-opacity="0.7"/>
<path d="M772.7,263.7 L771.3,277 L765.3,283.7" fill="none" stroke="#8a545b" stroke-width="5.1" stroke-linecap="round" stroke-linejoin="round"/><path d="M772.7,263.7 L771.3,277 L765.3,283.7" fill="none" stroke="#c47f87" stroke-width="3.9999999999999996" stroke-linecap="round" stroke-linejoin="round"/><path d="M772.7,262.87 L771.3,276.17 L765.3,282.87" fill="none" stroke="#e3a9ae" stroke-width="1.38" stroke-linecap="round" stroke-linejoin="round" stroke-opacity="0.7"/>
<path d="M723.3,247.7 L738,260.3" fill="none" stroke="#85593a" stroke-width="4.7" stroke-linecap="round" stroke-linejoin="round"/><path d="M723.3,247.7 L738,260.3" fill="none" stroke="#cc9766" stroke-width="3.6" stroke-linecap="round" stroke-linejoin="round"/><path d="M723.3,246.94 L738,259.54" fill="none" stroke="#ebbd8c" stroke-width="1.26" stroke-linecap="round" stroke-linejoin="round" stroke-opacity="0.7"/>
<path d="M779.3,248 L772.7,263.7" fill="none" stroke="#85593a" stroke-width="4.7" stroke-linecap="round" stroke-linejoin="round"/><path d="M779.3,248 L772.7,263.7" fill="none" stroke="#cc9766" stroke-width="3.6" stroke-linecap="round" stroke-linejoin="round"/><path d="M779.3,247.24 L772.7,262.94" fill="none" stroke="#ebbd8c" stroke-width="1.26" stroke-linecap="round" stroke-linejoin="round" stroke-opacity="0.7"/>
<path d="M723.3,247.7 L779.3,247.9 L792.7,236.3" fill="none" stroke="#85593a" stroke-width="5.0" stroke-linecap="round" stroke-linejoin="round"/><path d="M723.3,247.7 L779.3,247.9 L792.7,236.3" fill="none" stroke="#cc9766" stroke-width="3.9" stroke-linecap="round" stroke-linejoin="round"/><path d="M723.3,246.89 L779.3,247.09 L792.7,235.49" fill="none" stroke="#ebbd8c" stroke-width="1.35" stroke-linecap="round" stroke-linejoin="round" stroke-opacity="0.7"/>
<defs><linearGradient id="bg2" x1="0" y1="0" x2="0" y2="1"><stop offset="0" stop-color="#a6a6a6"/><stop offset="1" stop-color="#595959"/></linearGradient></defs>
<rect x="522" y="431.8" width="299" height="148.8" fill="url(#bg2)"/>
<rect x="671" y="431.8" width="1.2" height="148.8" fill="#dddddd"/>
<path d="M522,511.2 L536,510.9" stroke="#444" stroke-width="1" stroke-opacity="0.6"/>
<path d="M588,551 L587,568.5 L600,566.5" fill="none" stroke="#7a4a50" stroke-width="4.8" stroke-linecap="round" stroke-linejoin="round"/><path d="M588,551 L587,568.5 L600,566.5" fill="none" stroke="#bd7a83" stroke-width="3.6999999999999997" stroke-linecap="round" stroke-linejoin="round"/><path d="M588,550.23 L587,567.73 L600,565.73" fill="none" stroke="#dba2a8" stroke-width="1.29" stroke-linecap="round" stroke-linejoin="round" stroke-opacity="0.7"/>
<path d="M620,522.5 L639,509" fill="none" stroke="#7a4a50" stroke-width="4.8" stroke-linecap="round" stroke-linejoin="round"/><path d="M620,522.5 L639,509" fill="none" stroke="#bd7a83" stroke-width="3.6999999999999997" stroke-linecap="round" stroke-linejoin="round"/><path d="M620,521.73 L639,508.23" fill="none" stroke="#dba2a8" stroke-width="1.29" stroke-linecap="round" stroke-linejoin="round" stroke-opacity="0.7"/>
<path d="M609.5,491 L609.5,510 L569.5,554.5 L588.5,548.5" fill="none" stroke="#664428" stroke-width="5.1" stroke-linecap="round" stroke-linejoin="round"/><path d="M609.5,491 L609.5,510 L569.5,554.5 L588.5,548.5" fill="none" stroke="#b3845a" stroke-width="3.9999999999999996" stroke-linecap="round" stroke-linejoin="round"/><path d="M609.5,490.17 L609.5,509.17 L569.5,553.67 L588.5,547.67" fill="none" stroke="#d4a678" stroke-width="1.38" stroke-linecap="round" stroke-linejoin="round" stroke-opacity="0.7"/>
<path d="M609.5,510 L620,522.5" fill="none" stroke="#664428" stroke-width="4.9" stroke-linecap="round" stroke-linejoin="round"/><path d="M609.5,510 L620,522.5" fill="none" stroke="#b3845a" stroke-width="3.8000000000000003" stroke-linecap="round" stroke-linejoin="round"/><path d="M609.5,509.21 L620,521.71" fill="none" stroke="#d4a678" stroke-width="1.32" stroke-linecap="round" stroke-linejoin="round" stroke-opacity="0.7"/>
<path d="M737.3,535.3 L726,514" fill="none" stroke="#7a4a50" stroke-width="5.1" stroke-linecap="round" stroke-linejoin="round"/><path d="M737.3,535.3 L726,514" fill="none" stroke="#bd7a83" stroke-width="3.9999999999999996" stroke-linecap="round" stroke-linejoin="round"/><path d="M737.3,534.47 L726,513.17" fill="none" stroke="#dba2a8" stroke-width="1.38" stroke-linecap="round" stroke-linejoin="round" stroke-opacity="0.7"/>
<path d="M763.5,527 L768.7,508 L756,504" fill="none" stroke="#7a4a50" stroke-width="5.1" stroke-linecap="round" stroke-linejoin="round"/><path d="M763.5,527 L768.7,508 L756,504" fill="none" stroke="#bd7a83" stroke-width="3.9999999999999996" stroke-linecap="round" stroke-linejoin="round"/><path d="M763.5,526.17 L768.7,507.17 L756,503.17" fill="none" stroke="#dba2a8" stroke-width="1.38" stroke-linecap="round" stroke-linejoin="round" stroke-opacity="0.7"/>
<path d="M716,562.7 L725.3,548 L737.3,535.3" fill="none" stroke="#664428" stroke-width="5.5" stroke-linecap="round" stroke-linejoin="round"/><path d="M716,562.7 L725.3,548 L737.3,535.3" fill="none" stroke="#b3845a" stroke-width="4.4" stroke-linecap="round" stroke-linejoin="round"/><path d="M716,561.8 L725.3,547.1 L737.3,534.4" fill="none" stroke="#d4a678" stroke-width="1.50" stroke-linecap="round" stroke-linejoin="round" stroke-opacity="0.7"/>
<path d="M725.3,548 L783.3,528.7 L763.3,528.7" fill="none" stroke="#664428" stroke-width="5.5" stroke-linecap="round" stroke-linejoin="round"/><path d="M725.3,548 L783.3,528.7 L763.3,528.7" fill="none" stroke="#b3845a" stroke-width="4.4" stroke-linecap="round" stroke-linejoin="round"/><path d="M725.3,547.1 L783.3,527.8 L763.3,527.8" fill="none" stroke="#d4a678" stroke-width="1.50" stroke-linecap="round" stroke-linejoin="round" stroke-opacity="0.7"/>
<text x="130.63" y="112.80" font-family="'Liberation Sans', sans-serif" font-style="normal" font-size="24" fill="#000" letter-spacing="0.36">Model-based RL Algorithm</text>
<text x="413.79" y="208.80" font-family="'Liberation Sans', sans-serif" font-style="normal" font-size="16" fill="#000" letter-spacing="0.1">Learned Policy</text>
<text x="160.89" y="535.00" font-family="'Liberation Sans', sans-serif" font-style="normal" font-size="16" fill="#000" letter-spacing="0.115">Learned Policy with Hyperparameter Optimization</text>
<text x="163.97" y="264.70" font-family="'Liberation Serif', serif" font-style="normal" font-size="11.6" fill="#1a1a1a" letter-spacing="0.17">Dynamics Model</text>
<text x="295.13" y="267.40" font-family="'Liberation Serif', serif" font-style="normal" font-size="11.5" fill="#1a1a1a" letter-spacing="0.2">Control and Planning</text>
<text x="162.24" y="248.00" font-family="'Liberation Serif', serif" font-style="italic" font-size="13.5" fill="#3a3a3a">s</text>
<text x="168.96" y="250.60" font-family="'Liberation Serif', serif" font-style="italic" font-size="10" fill="#3a3a3a">t</text>
<text x="172.40" y="250.60" font-family="'Liberation Serif', serif" font-style="normal" font-size="10" fill="#3a3a3a">+</text>
<text x="178.52" y="250.60" font-family="'Liberation Serif', serif" font-style="normal" font-size="10" fill="#3a3a3a">1</text>
<text x="187.68" y="248.80" font-family="'Liberation Serif', serif" font-style="normal" font-size="12.5" fill="#3a3a3a">=</text>
<text x="200.45" y="248.00" font-family="'Liberation Serif', serif" font-style="italic" font-size="13" fill="#3a3a3a">f</text>
<text x="206.74" y="250.60" font-family="'Liberation Serif', serif" font-style="italic" font-size="9.5" fill="#3a3a3a">θ</text>
<text x="211.35" y="248.00" font-family="'Liberation Serif', serif" font-style="normal" font-size="12.5" fill="#3a3a3a">(</text>
<text x="215.94" y="248.00" font-family="'Liberation Serif', serif" font-style="italic" font-size="13.5" fill="#3a3a3a">s</text>
<text x="221.86" y="250.60" font-family="'Liberation Serif', serif" font-style="italic" font-size="10" fill="#3a3a3a">t</text>
<text x="225.72" y="248.00" font-family="'Liberation Serif', serif" font-style="normal" font-size="12.5" fill="#3a3a3a">,</text>
<text x="230.70" y="248.00" font-family="'Liberation Serif', serif" font-style="italic" font-size="13.5" fill="#3a3a3a">a</text>
<text x="237.86" y="250.60" font-family="'Liberation Serif', serif" font-style="italic" font-size="10" fill="#3a3a3a">t</text>
<text x="244.00" y="248.00" font-family="'Liberation Serif', serif" font-style="normal" font-size="12.5" fill="#3a3a3a">)</text>
<text x="294.77" y="245.00" font-family="'Liberation Serif', serif" font-style="normal" font-size="12.2" fill="#3a3a3a" letter-spacing="0.9">arg</text>
<text x="314.05" y="245.00" font-family="'Liberation Serif', serif" font-style="normal" font-size="12" fill="#3a3a3a" letter-spacing="0.1">max</text>
<text x="317.38" y="252.60" font-family="'Liberation Serif', serif" font-style="italic" font-size="8.5" fill="#3a3a3a">u</text>
<text x="322.13" y="252.60" font-family="'Liberation Serif', serif" font-style="normal" font-size="8.5" fill="#3a3a3a">(</text>
<text x="325.93" y="252.60" font-family="'Liberation Serif', serif" font-style="italic" font-size="8.5" fill="#3a3a3a">t</text>
<text x="329.33" y="252.60" font-family="'Liberation Serif', serif" font-style="normal" font-size="8.5" fill="#3a3a3a">)</text>
<text x="343.64" y="230.50" font-family="'Liberation Serif', serif" font-style="italic" font-size="8.5" fill="#3a3a3a">T</text>
<text x="338.83" y="258.60" font-family="'Liberation Serif', serif" font-style="italic" font-size="8.5" fill="#3a3a3a">t</text>
<text x="341.88" y="258.60" font-family="'Liberation Serif', serif" font-style="normal" font-size="8.5" fill="#3a3a3a">=</text>
<text x="350.18" y="258.60" font-family="'Liberation Serif', serif" font-style="normal" font-size="8.5" fill="#3a3a3a">0</text>
<text x="357.59" y="244.70" font-family="'Liberation Serif', serif" font-style="italic" font-size="12.5" fill="#3a3a3a">r</text>
<text x="362.95" y="245.20" font-family="'Liberation Serif', serif" font-style="normal" font-size="12.5" fill="#3a3a3a">(</text>
<text x="367.85" y="244.70" font-family="'Liberation Serif', serif" font-style="italic" font-size="12.5" fill="#3a3a3a">s</text>
<text x="372.93" y="246.70" font-family="'Liberation Serif', serif" font-style="italic" font-size="8.5" fill="#3a3a3a">t</text>
<text x="377.84" y="244.70" font-family="'Liberation Serif', serif" font-style="normal" font-size="12" fill="#3a3a3a">,</text>
<text x="382.53" y="244.70" font-family="'Liberation Serif', serif" font-style="italic" font-size="12.5" fill="#3a3a3a">a</text>
<text x="388.93" y="246.70" font-family="'Liberation Serif', serif" font-style="italic" font-size="8.5" fill="#3a3a3a">t</text>
<text x="393.70" y="245.20" font-family="'Liberation Serif', serif" font-style="normal" font-size="12.5" fill="#3a3a3a">)</text>
<path d="M338.5,233.9 L354.4,233.9 L355.3,238.2 L354.6,238.2 C354,235.9 352.5,235.1 349,235.1 L341.6,235.1 L347.6,242.1 L340.4,248.7 L350,248.7 C353.5,248.7 354.6,247.6 355.3,245 L356,245 L355,250.1 L338.3,250.1 L345.9,242.6 Z" fill="#3a3a3a"/>
<text x="200.82" y="313.60" font-family="'Liberation Serif', serif" font-style="italic" font-size="23" fill="#262626">s</text>
<text x="210.20" y="317.90" font-family="'Liberation Serif', serif" font-style="italic" font-size="16" fill="#262626">t</text>
<text x="218.76" y="313.80" font-family="'Liberation Serif', serif" font-style="normal" font-size="22" fill="#262626">,</text>
<text x="227.07" y="313.60" font-family="'Liberation Serif', serif" font-style="italic" font-size="23" fill="#262626">r</text>
<text x="237.10" y="317.90" font-family="'Liberation Serif', serif" font-style="italic" font-size="16" fill="#262626">t</text>
<text x="337.20" y="316.80" font-family="'Liberation Serif', serif" font-style="italic" font-size="27" fill="#262626">a</text>
<text x="350.97" y="320.80" font-family="'Liberation Serif', serif" font-style="italic" font-size="19" fill="#262626">t</text>
</svg>
</body></html>
